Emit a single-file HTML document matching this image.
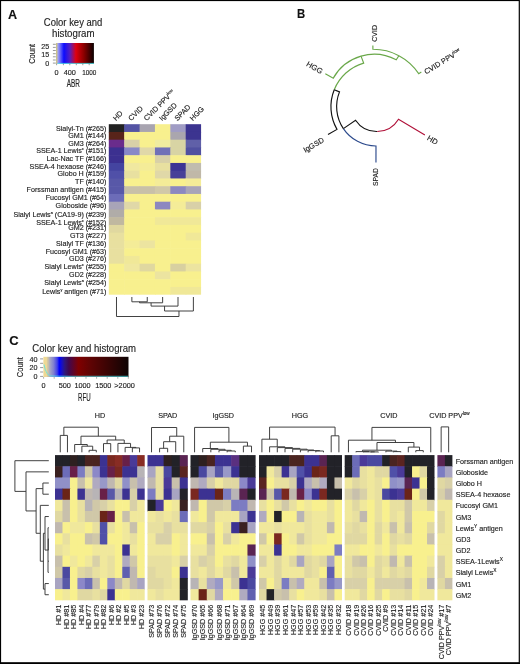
<!DOCTYPE html>
<html><head><meta charset="utf-8"><style>
html,body{margin:0;padding:0;background:#fff;width:520px;height:664px;overflow:hidden}
svg{display:block;will-change:transform}
text{font-family:"Liberation Sans", sans-serif;stroke:#222;stroke-width:0.14px}
</style></head><body>
<svg width="520" height="664" viewBox="0 0 520 664">
<rect x="0" y="0" width="520" height="664" fill="#fff"/>
<text x="8.1" y="18.7" font-size="13" textLength="9.1" lengthAdjust="spacingAndGlyphs" font-weight="bold" fill="#111" >A</text>
<text x="73.1" y="25.8" font-size="10.6" text-anchor="middle" textLength="58.5" lengthAdjust="spacingAndGlyphs" fill="#222" >Color key and</text>
<text x="73.3" y="36.6" font-size="10.6" text-anchor="middle" textLength="42.5" lengthAdjust="spacingAndGlyphs" fill="#222" >histogram</text>
<defs><linearGradient id="gA" x1="0" x2="1" y1="0" y2="0"><stop offset="0" stop-color="#b8b8ff"/><stop offset="0.06" stop-color="#9090f4"/><stop offset="0.2" stop-color="#0c0cff"/><stop offset="0.36" stop-color="#5420c0"/><stop offset="0.52" stop-color="#e00010"/><stop offset="0.72" stop-color="#900000"/><stop offset="1" stop-color="#0a0000"/></linearGradient><linearGradient id="gC" x1="0" x2="1" y1="0" y2="0"><stop offset="0" stop-color="#f0d890"/><stop offset="0.039" stop-color="#ecd898"/><stop offset="0.05" stop-color="#d0c4a4"/><stop offset="0.062" stop-color="#c4bcac"/><stop offset="0.075" stop-color="#a8a8c4"/><stop offset="0.12" stop-color="#8080d0"/><stop offset="0.163" stop-color="#4040e8"/><stop offset="0.186" stop-color="#0000ff"/><stop offset="0.219" stop-color="#1a10c0"/><stop offset="0.254" stop-color="#301878"/><stop offset="0.298" stop-color="#400850"/><stop offset="0.412" stop-color="#800000"/><stop offset="0.548" stop-color="#600404"/><stop offset="1" stop-color="#0e0404"/></linearGradient></defs>
<rect x="56.4" y="43" width="37.5" height="20.7" fill="url(#gA)"/>
<rect x="56.1" y="43" width="1.3" height="20.7" fill="#c8c080"/>
<line x1="57.5" y1="63.4" x2="93.9" y2="63.4" stroke="#40e0e8" stroke-width="0.8"/>
<line x1="52.9" y1="44.3" x2="55.8" y2="44.3" stroke="#555" stroke-width="0.6"/>
<line x1="52.9" y1="47.4" x2="55.8" y2="47.4" stroke="#555" stroke-width="0.6"/>
<line x1="52.9" y1="50.5" x2="55.8" y2="50.5" stroke="#555" stroke-width="0.6"/>
<line x1="52.9" y1="53.7" x2="55.8" y2="53.7" stroke="#555" stroke-width="0.6"/>
<line x1="52.9" y1="56.8" x2="55.8" y2="56.8" stroke="#555" stroke-width="0.6"/>
<line x1="52.9" y1="60" x2="55.8" y2="60" stroke="#555" stroke-width="0.6"/>
<line x1="52.9" y1="63.1" x2="55.8" y2="63.1" stroke="#555" stroke-width="0.6"/>
<text x="49.2" y="48.8" font-size="7.2" text-anchor="end" fill="#222" >25</text>
<text x="49.2" y="57" font-size="7.2" text-anchor="end" fill="#222" >15</text>
<text x="49.2" y="65.5" font-size="7.2" text-anchor="end" fill="#222" >0</text>
<text transform="translate(35.4,53.8) rotate(-90)" font-size="9.4" text-anchor="middle" textLength="20" lengthAdjust="spacingAndGlyphs" fill="#222">Count</text>
<line x1="56.6" y1="63.7" x2="56.6" y2="65.2" stroke="#555" stroke-width="0.6"/>
<line x1="63.4" y1="63.7" x2="63.4" y2="65.2" stroke="#555" stroke-width="0.6"/>
<line x1="69.8" y1="63.7" x2="69.8" y2="65.2" stroke="#555" stroke-width="0.6"/>
<line x1="76.3" y1="63.7" x2="76.3" y2="65.2" stroke="#555" stroke-width="0.6"/>
<line x1="82.8" y1="63.7" x2="82.8" y2="65.2" stroke="#555" stroke-width="0.6"/>
<line x1="89.2" y1="63.7" x2="89.2" y2="65.2" stroke="#555" stroke-width="0.6"/>
<text x="56.5" y="74.8" font-size="7.3" text-anchor="middle" fill="#222" >0</text>
<text x="69.8" y="74.8" font-size="7.3" text-anchor="middle" fill="#222" >400</text>
<text x="89.3" y="74.8" font-size="7.3" text-anchor="middle" textLength="14.2" lengthAdjust="spacingAndGlyphs" fill="#222" >1000</text>
<text x="73.3" y="86.9" font-size="10" text-anchor="middle" textLength="13.2" lengthAdjust="spacingAndGlyphs" fill="#222" >ABR</text>
<rect x="108.8" y="124.2" width="15.98" height="8.35" fill="#222222"/>
<rect x="124.18" y="124.2" width="15.98" height="8.35" fill="#5454a4"/>
<rect x="139.56" y="124.2" width="15.98" height="8.35" fill="#a8a4b0"/>
<rect x="154.94" y="124.2" width="15.98" height="8.35" fill="#f8f08e"/>
<rect x="170.32" y="124.2" width="15.98" height="8.35" fill="#a09cc4"/>
<rect x="185.7" y="124.2" width="15.38" height="8.35" fill="#3c3490"/>
<rect x="108.8" y="131.95" width="15.98" height="8.35" fill="#58241a"/>
<rect x="124.18" y="131.95" width="15.98" height="8.35" fill="#f8f08e"/>
<rect x="139.56" y="131.95" width="15.98" height="8.35" fill="#f8f08e"/>
<rect x="154.94" y="131.95" width="15.98" height="8.35" fill="#f8f08e"/>
<rect x="170.32" y="131.95" width="15.98" height="8.35" fill="#aaa6ae"/>
<rect x="185.7" y="131.95" width="15.38" height="8.35" fill="#3c3490"/>
<rect x="108.8" y="139.7" width="15.98" height="8.35" fill="#6a2c8c"/>
<rect x="124.18" y="139.7" width="15.98" height="8.35" fill="#d8d0a8"/>
<rect x="139.56" y="139.7" width="15.98" height="8.35" fill="#f8f08e"/>
<rect x="154.94" y="139.7" width="15.98" height="8.35" fill="#f0eca0"/>
<rect x="170.32" y="139.7" width="15.98" height="8.35" fill="#d8d4a4"/>
<rect x="185.7" y="139.7" width="15.38" height="8.35" fill="#6060a8"/>
<rect x="108.8" y="147.45" width="15.98" height="8.35" fill="#3c3090"/>
<rect x="124.18" y="147.45" width="15.98" height="8.35" fill="#8888c8"/>
<rect x="139.56" y="147.45" width="15.98" height="8.35" fill="#e0d8a8"/>
<rect x="154.94" y="147.45" width="15.98" height="8.35" fill="#7070b8"/>
<rect x="170.32" y="147.45" width="15.98" height="8.35" fill="#d8d4a4"/>
<rect x="185.7" y="147.45" width="15.38" height="8.35" fill="#5050a0"/>
<rect x="108.8" y="155.2" width="15.98" height="8.35" fill="#3c3090"/>
<rect x="124.18" y="155.2" width="15.98" height="8.35" fill="#f8f08e"/>
<rect x="139.56" y="155.2" width="15.98" height="8.35" fill="#f8f08e"/>
<rect x="154.94" y="155.2" width="15.98" height="8.35" fill="#d8d0a8"/>
<rect x="170.32" y="155.2" width="15.98" height="8.35" fill="#f8f08e"/>
<rect x="185.7" y="155.2" width="15.38" height="8.35" fill="#f8f08e"/>
<rect x="108.8" y="162.95" width="15.98" height="8.35" fill="#4444a0"/>
<rect x="124.18" y="162.95" width="15.98" height="8.35" fill="#f0e8a0"/>
<rect x="139.56" y="162.95" width="15.98" height="8.35" fill="#f4ec98"/>
<rect x="154.94" y="162.95" width="15.98" height="8.35" fill="#e8e0a0"/>
<rect x="170.32" y="162.95" width="15.98" height="8.35" fill="#3c3494"/>
<rect x="185.7" y="162.95" width="15.38" height="8.35" fill="#c0bcae"/>
<rect x="108.8" y="170.7" width="15.98" height="8.35" fill="#5050a8"/>
<rect x="124.18" y="170.7" width="15.98" height="8.35" fill="#e8e0a0"/>
<rect x="139.56" y="170.7" width="15.98" height="8.35" fill="#f8f08e"/>
<rect x="154.94" y="170.7" width="15.98" height="8.35" fill="#e0d8a8"/>
<rect x="170.32" y="170.7" width="15.98" height="8.35" fill="#484098"/>
<rect x="185.7" y="170.7" width="15.38" height="8.35" fill="#c0b8a8"/>
<rect x="108.8" y="178.45" width="15.98" height="8.35" fill="#5858a8"/>
<rect x="124.18" y="178.45" width="15.98" height="8.35" fill="#f8f08e"/>
<rect x="139.56" y="178.45" width="15.98" height="8.35" fill="#f8f08e"/>
<rect x="154.94" y="178.45" width="15.98" height="8.35" fill="#f4ec98"/>
<rect x="170.32" y="178.45" width="15.98" height="8.35" fill="#f8f08e"/>
<rect x="185.7" y="178.45" width="15.38" height="8.35" fill="#f4ec98"/>
<rect x="108.8" y="186.2" width="15.98" height="8.35" fill="#5858a8"/>
<rect x="124.18" y="186.2" width="15.98" height="8.35" fill="#c8c0a8"/>
<rect x="139.56" y="186.2" width="15.98" height="8.35" fill="#c8c0a8"/>
<rect x="154.94" y="186.2" width="15.98" height="8.35" fill="#d0c8a8"/>
<rect x="170.32" y="186.2" width="15.98" height="8.35" fill="#8c88c0"/>
<rect x="185.7" y="186.2" width="15.38" height="8.35" fill="#a8a4b8"/>
<rect x="108.8" y="193.95" width="15.98" height="8.35" fill="#6c6cb8"/>
<rect x="124.18" y="193.95" width="15.98" height="8.35" fill="#f8f08e"/>
<rect x="139.56" y="193.95" width="15.98" height="8.35" fill="#f8f08e"/>
<rect x="154.94" y="193.95" width="15.98" height="8.35" fill="#f8f08e"/>
<rect x="170.32" y="193.95" width="15.98" height="8.35" fill="#f8f08e"/>
<rect x="185.7" y="193.95" width="15.38" height="8.35" fill="#f8f08e"/>
<rect x="108.8" y="201.7" width="15.98" height="8.35" fill="#a8a4b8"/>
<rect x="124.18" y="201.7" width="15.98" height="8.35" fill="#e0d8a8"/>
<rect x="139.56" y="201.7" width="15.98" height="8.35" fill="#f8f08e"/>
<rect x="154.94" y="201.7" width="15.98" height="8.35" fill="#8c88c0"/>
<rect x="170.32" y="201.7" width="15.98" height="8.35" fill="#f4ec98"/>
<rect x="185.7" y="201.7" width="15.38" height="8.35" fill="#d8d0a8"/>
<rect x="108.8" y="209.45" width="15.98" height="8.35" fill="#b0aca8"/>
<rect x="124.18" y="209.45" width="15.98" height="8.35" fill="#f8f08e"/>
<rect x="139.56" y="209.45" width="15.98" height="8.35" fill="#f8f08e"/>
<rect x="154.94" y="209.45" width="15.98" height="8.35" fill="#f8f08e"/>
<rect x="170.32" y="209.45" width="15.98" height="8.35" fill="#f8f08e"/>
<rect x="185.7" y="209.45" width="15.38" height="8.35" fill="#f8f08e"/>
<rect x="108.8" y="217.2" width="15.98" height="8.35" fill="#c0b8a0"/>
<rect x="124.18" y="217.2" width="15.98" height="8.35" fill="#f8f08e"/>
<rect x="139.56" y="217.2" width="15.98" height="8.35" fill="#f8f08e"/>
<rect x="154.94" y="217.2" width="15.98" height="8.35" fill="#f0e898"/>
<rect x="170.32" y="217.2" width="15.98" height="8.35" fill="#f0e898"/>
<rect x="185.7" y="217.2" width="15.38" height="8.35" fill="#f0e898"/>
<rect x="108.8" y="224.95" width="15.98" height="8.35" fill="#e0d8a0"/>
<rect x="124.18" y="224.95" width="15.98" height="8.35" fill="#f8f08e"/>
<rect x="139.56" y="224.95" width="15.98" height="8.35" fill="#f8f08e"/>
<rect x="154.94" y="224.95" width="15.98" height="8.35" fill="#f8f08e"/>
<rect x="170.32" y="224.95" width="15.98" height="8.35" fill="#f8f08e"/>
<rect x="185.7" y="224.95" width="15.38" height="8.35" fill="#f8f08e"/>
<rect x="108.8" y="232.7" width="15.98" height="8.35" fill="#e8e0a0"/>
<rect x="124.18" y="232.7" width="15.98" height="8.35" fill="#f8f08e"/>
<rect x="139.56" y="232.7" width="15.98" height="8.35" fill="#f8f08e"/>
<rect x="154.94" y="232.7" width="15.98" height="8.35" fill="#f8f08e"/>
<rect x="170.32" y="232.7" width="15.98" height="8.35" fill="#f8f08e"/>
<rect x="185.7" y="232.7" width="15.38" height="8.35" fill="#f0e898"/>
<rect x="108.8" y="240.45" width="15.98" height="8.35" fill="#e8e0a0"/>
<rect x="124.18" y="240.45" width="15.98" height="8.35" fill="#f4ec98"/>
<rect x="139.56" y="240.45" width="15.98" height="8.35" fill="#ece4a0"/>
<rect x="154.94" y="240.45" width="15.98" height="8.35" fill="#f8f08e"/>
<rect x="170.32" y="240.45" width="15.98" height="8.35" fill="#f8f08e"/>
<rect x="185.7" y="240.45" width="15.38" height="8.35" fill="#f8f08e"/>
<rect x="108.8" y="248.2" width="15.98" height="8.35" fill="#e8e0a0"/>
<rect x="124.18" y="248.2" width="15.98" height="8.35" fill="#f8f08e"/>
<rect x="139.56" y="248.2" width="15.98" height="8.35" fill="#f8f08e"/>
<rect x="154.94" y="248.2" width="15.98" height="8.35" fill="#f8f08e"/>
<rect x="170.32" y="248.2" width="15.98" height="8.35" fill="#f8f08e"/>
<rect x="185.7" y="248.2" width="15.38" height="8.35" fill="#f8f08e"/>
<rect x="108.8" y="255.95" width="15.98" height="8.35" fill="#e8e0a0"/>
<rect x="124.18" y="255.95" width="15.98" height="8.35" fill="#f0e898"/>
<rect x="139.56" y="255.95" width="15.98" height="8.35" fill="#f8f08e"/>
<rect x="154.94" y="255.95" width="15.98" height="8.35" fill="#f8f08e"/>
<rect x="170.32" y="255.95" width="15.98" height="8.35" fill="#f8f08e"/>
<rect x="185.7" y="255.95" width="15.38" height="8.35" fill="#f8f08e"/>
<rect x="108.8" y="263.7" width="15.98" height="8.35" fill="#f8f08e"/>
<rect x="124.18" y="263.7" width="15.98" height="8.35" fill="#f0e8a0"/>
<rect x="139.56" y="263.7" width="15.98" height="8.35" fill="#e0d8a0"/>
<rect x="154.94" y="263.7" width="15.98" height="8.35" fill="#f8f08e"/>
<rect x="170.32" y="263.7" width="15.98" height="8.35" fill="#d8d0a0"/>
<rect x="185.7" y="263.7" width="15.38" height="8.35" fill="#ece4a0"/>
<rect x="108.8" y="271.45" width="15.98" height="8.35" fill="#f8f08e"/>
<rect x="124.18" y="271.45" width="15.98" height="8.35" fill="#f8f08e"/>
<rect x="139.56" y="271.45" width="15.98" height="8.35" fill="#f8f08e"/>
<rect x="154.94" y="271.45" width="15.98" height="8.35" fill="#ece4a0"/>
<rect x="170.32" y="271.45" width="15.98" height="8.35" fill="#f8f08e"/>
<rect x="185.7" y="271.45" width="15.38" height="8.35" fill="#f8f08e"/>
<rect x="108.8" y="279.2" width="15.98" height="8.35" fill="#f8f08e"/>
<rect x="124.18" y="279.2" width="15.98" height="8.35" fill="#f8f08e"/>
<rect x="139.56" y="279.2" width="15.98" height="8.35" fill="#f8f08e"/>
<rect x="154.94" y="279.2" width="15.98" height="8.35" fill="#f8f08e"/>
<rect x="170.32" y="279.2" width="15.98" height="8.35" fill="#f8f08e"/>
<rect x="185.7" y="279.2" width="15.38" height="8.35" fill="#f8f08e"/>
<rect x="108.8" y="286.95" width="15.98" height="7.75" fill="#f8f08e"/>
<rect x="124.18" y="286.95" width="15.98" height="7.75" fill="#f8f08e"/>
<rect x="139.56" y="286.95" width="15.98" height="7.75" fill="#f8f08e"/>
<rect x="154.94" y="286.95" width="15.98" height="7.75" fill="#f8f08e"/>
<rect x="170.32" y="286.95" width="15.98" height="7.75" fill="#f0e898"/>
<rect x="185.7" y="286.95" width="15.38" height="7.75" fill="#f0e898"/>
<text x="106.4" y="130.6" font-size="7.15" text-anchor="end" fill="#222" >Sialyl-Tn (#265)</text>
<text x="106.4" y="138.2" font-size="7.15" text-anchor="end" fill="#222" >GM1 (#144)</text>
<text x="106.4" y="145.8" font-size="7.15" text-anchor="end" fill="#222" >GM3 (#264)</text>
<text x="106.4" y="153.4" font-size="7.15" text-anchor="end" fill="#222" >SSEA-1 Lewis<tspan font-size="3.8" dy="-3.1">x</tspan><tspan dy="3.1"> (#151)</tspan></text>
<text x="106.4" y="161.2" font-size="7.15" text-anchor="end" fill="#222" >Lac-Nac TF (#166)</text>
<text x="106.4" y="168.6" font-size="7.15" text-anchor="end" fill="#222" >SSEA-4 hexaose (#246)</text>
<text x="106.4" y="176.4" font-size="7.15" text-anchor="end" fill="#222" >Globo H (#159)</text>
<text x="106.4" y="183.9" font-size="7.15" text-anchor="end" fill="#222" >TF (#140)</text>
<text x="106.4" y="192" font-size="7.15" text-anchor="end" fill="#222" >Forssman antigen (#415)</text>
<text x="106.4" y="199.8" font-size="7.15" text-anchor="end" fill="#222" >Fucosyl GM1 (#64)</text>
<text x="106.4" y="207.7" font-size="7.15" text-anchor="end" fill="#222" >Globoside (#96)</text>
<text x="106.4" y="216.7" font-size="7.15" text-anchor="end" fill="#222" >Sialyl Lewis<tspan font-size="3.8" dy="-3.1">a</tspan><tspan dy="3.1"> (CA19-9) (#239)</tspan></text>
<text x="106.4" y="224.6" font-size="7.15" text-anchor="end" fill="#222" >SSEA-1 Lewis<tspan font-size="3.8" dy="-3.1">x</tspan><tspan dy="3.1"> (#152)</tspan></text>
<text x="106.4" y="230.3" font-size="7.15" text-anchor="end" fill="#222" >GM2 (#231)</text>
<text x="106.4" y="237.9" font-size="7.15" text-anchor="end" fill="#222" >GT3 (#227)</text>
<text x="106.4" y="245.5" font-size="7.15" text-anchor="end" fill="#222" >Sialyl TF (#136)</text>
<text x="106.4" y="253.8" font-size="7.15" text-anchor="end" fill="#222" >Fucosyl GM1 (#63)</text>
<text x="106.4" y="260.9" font-size="7.15" text-anchor="end" fill="#222" >GD3 (#276)</text>
<text x="106.4" y="269.4" font-size="7.15" text-anchor="end" fill="#222" >Sialyl Lewis<tspan font-size="3.8" dy="-3.1">x</tspan><tspan dy="3.1"> (#255)</tspan></text>
<text x="106.4" y="276.8" font-size="7.15" text-anchor="end" fill="#222" >GD2 (#228)</text>
<text x="106.4" y="284.8" font-size="7.15" text-anchor="end" fill="#222" >Sialyl Lewis<tspan font-size="3.8" dy="-3.1">a</tspan><tspan dy="3.1"> (#254)</tspan></text>
<text x="106.4" y="293.7" font-size="7.15" text-anchor="end" fill="#222" >Lewis<tspan font-size="3.8" dy="-3.1">y</tspan><tspan dy="3.1"> antigen (#71)</tspan></text>
<text transform="translate(115.89,121.3) rotate(-45)" font-size="7.3" fill="#222">HD</text>
<text transform="translate(131.27,121.3) rotate(-45)" font-size="7.3" fill="#222">CVID</text>
<text transform="translate(146.65,121.3) rotate(-45)" font-size="7.3" fill="#222">CVID PPV<tspan font-size="4.2" dy="-3.0">low</tspan><tspan dy="3.0"></tspan></text>
<text transform="translate(162.03,121.3) rotate(-45)" font-size="7.3" fill="#222">IgGSD</text>
<text transform="translate(177.41,121.3) rotate(-45)" font-size="7.3" fill="#222">SPAD</text>
<text transform="translate(192.79,121.3) rotate(-45)" font-size="7.3" fill="#222">HGG</text>
<path d="M131.87,297 L131.87,301.8 L147.25,301.8 L147.25,297" fill="none" stroke="#383838" stroke-width="0.95"/>
<path d="M139.56,301.8 L139.56,302.8 L162.63,302.8 L162.63,297" fill="none" stroke="#383838" stroke-width="0.95"/>
<path d="M151.09,302.8 L151.09,306.1 L178.01,306.1 L178.01,297" fill="none" stroke="#383838" stroke-width="0.95"/>
<path d="M164.55,306.1 L164.55,311 L193.39,311 L193.39,297" fill="none" stroke="#383838" stroke-width="0.95"/>
<path d="M178.97,311 L178.97,316.5 L116.49,316.5 L116.49,297" fill="none" stroke="#383838" stroke-width="0.95"/>
<text x="297" y="18.4" font-size="12.6" textLength="8.2" lengthAdjust="spacingAndGlyphs" font-weight="bold" fill="#111" >B</text>
<path d="M398.89,55.7 A54.55,54.55 0 0 0 372.9,49.29 L372.87,45.5" fill="none" stroke="#6aa84a" stroke-width="1.15" stroke-linejoin="miter"/>
<path d="M398.89,55.7 A54.55,54.55 0 0 1 418.7,73.69 L421.33,71.95" fill="none" stroke="#6aa84a" stroke-width="1.15" stroke-linejoin="miter"/>
<path d="M361.03,56.17 A46.95,46.95 0 0 0 333.29,78.13 L325.32,73.63" fill="none" stroke="#6aa84a" stroke-width="1.15" stroke-linejoin="miter"/>
<path d="M361.03,56.17 A46.95,46.95 0 0 1 396.22,59.81 L398.89,55.7" fill="none" stroke="#6aa84a" stroke-width="1.15" stroke-linejoin="miter"/>
<path d="M334.23,89.76 A45.43,45.43 0 0 1 363.67,63.11 L361.03,56.17" fill="none" stroke="#6aa84a" stroke-width="1.15" stroke-linejoin="miter"/>
<path d="M334.23,89.76 A45.43,45.43 0 0 0 336.99,129.38 L328,134.55" fill="none" stroke="#111111" stroke-width="1.15" stroke-linejoin="miter"/>
<path d="M343.37,128.61 A39.42,39.42 0 0 1 339.49,91.85 L334.23,89.76" fill="none" stroke="#111111" stroke-width="1.15" stroke-linejoin="miter"/>
<path d="M343.37,128.61 A39.42,39.42 0 0 0 375.99,146 L375.96,162.38" fill="none" stroke="#2c4a8c" stroke-width="1.15" stroke-linejoin="miter"/>
<path d="M377.32,131.5 A25.49,25.49 0 0 1 355.54,120.27 L343.37,128.61" fill="none" stroke="#111111" stroke-width="1.15" stroke-linejoin="miter"/>
<path d="M377.32,131.5 A25.49,25.49 0 0 0 398.51,119.19 L424.89,135.1" fill="none" stroke="#b01038" stroke-width="1.15" stroke-linejoin="miter"/>
<text transform="translate(376.7,41.7) rotate(-90)" font-size="7.5" fill="#222" textLength="16.6" lengthAdjust="spacingAndGlyphs">CVID</text>
<text transform="translate(378.2,186) rotate(-90)" font-size="7.5" fill="#222" textLength="17.8" lengthAdjust="spacingAndGlyphs">SPAD</text>
<text transform="translate(305.8,65.5) rotate(30)" font-size="7.6" fill="#222">HGG</text>
<text transform="translate(426.6,139.4) rotate(30)" font-size="7.6" fill="#222">HD</text>
<text transform="translate(305.2,152.8) rotate(-30)" font-size="7.5" fill="#222">IgGSD</text>
<text transform="translate(426.3,74.6) rotate(-32)" font-size="7.4" fill="#222">CVID PPV<tspan font-size="4.6" dy="-2.9">low</tspan><tspan dy="2.9"></tspan></text>
<text x="9.3" y="344.5" font-size="12" textLength="9.4" lengthAdjust="spacingAndGlyphs" font-weight="bold" fill="#111" >C</text>
<text x="32.3" y="352" font-size="10.6" textLength="103.7" lengthAdjust="spacingAndGlyphs" fill="#222" >Color key and histogram</text>
<rect x="43.4" y="356.8" width="85.1" height="20.2" fill="url(#gC)"/>
<path d="M44,364.5 L44.6,367 L45.3,369.5 L46.2,371.5 L47.2,373.5 L48.5,375 L50,375.9 L55,376.1 L70,376.3 L128,376.3" fill="none" stroke="#50e4ec" stroke-width="0.8"/>
<line x1="40.1" y1="358.9" x2="43.1" y2="358.9" stroke="#555" stroke-width="0.6"/>
<line x1="40.1" y1="363.3" x2="43.1" y2="363.3" stroke="#555" stroke-width="0.6"/>
<line x1="40.1" y1="367.6" x2="43.1" y2="367.6" stroke="#555" stroke-width="0.6"/>
<line x1="40.1" y1="372" x2="43.1" y2="372" stroke="#555" stroke-width="0.6"/>
<line x1="40.1" y1="376.4" x2="43.1" y2="376.4" stroke="#555" stroke-width="0.6"/>
<text x="37.4" y="361.5" font-size="7.2" text-anchor="end" fill="#222" >40</text>
<text x="37.4" y="370.2" font-size="7.2" text-anchor="end" fill="#222" >20</text>
<text x="37.4" y="379" font-size="7.2" text-anchor="end" fill="#222" >0</text>
<text transform="translate(22.6,367.2) rotate(-90)" font-size="9.4" text-anchor="middle" textLength="20" lengthAdjust="spacingAndGlyphs" fill="#222">Count</text>
<line x1="43.6" y1="377.2" x2="43.6" y2="378.6" stroke="#555" stroke-width="0.6"/>
<line x1="54.2" y1="377.2" x2="54.2" y2="378.6" stroke="#555" stroke-width="0.6"/>
<line x1="64.8" y1="377.2" x2="64.8" y2="378.6" stroke="#555" stroke-width="0.6"/>
<line x1="75.4" y1="377.2" x2="75.4" y2="378.6" stroke="#555" stroke-width="0.6"/>
<line x1="86" y1="377.2" x2="86" y2="378.6" stroke="#555" stroke-width="0.6"/>
<line x1="96.6" y1="377.2" x2="96.6" y2="378.6" stroke="#555" stroke-width="0.6"/>
<line x1="107.2" y1="377.2" x2="107.2" y2="378.6" stroke="#555" stroke-width="0.6"/>
<line x1="117.8" y1="377.2" x2="117.8" y2="378.6" stroke="#555" stroke-width="0.6"/>
<line x1="128.3" y1="377.2" x2="128.3" y2="378.6" stroke="#555" stroke-width="0.6"/>
<text x="43.6" y="387.7" font-size="7.3" text-anchor="middle" fill="#222" >0</text>
<text x="64.8" y="387.7" font-size="7.3" text-anchor="middle" fill="#222" >500</text>
<text x="82.5" y="387.7" font-size="7.3" text-anchor="middle" fill="#222" >1000</text>
<text x="103.3" y="387.7" font-size="7.3" text-anchor="middle" fill="#222" >1500</text>
<text x="124.6" y="387.7" font-size="7.3" text-anchor="middle" fill="#222" >&gt;2000</text>
<text x="84.4" y="400.9" font-size="10" text-anchor="middle" textLength="12.7" lengthAdjust="spacingAndGlyphs" fill="#222" >RFU</text>
<rect x="55" y="455.1" width="8.07" height="11.77" fill="#222228"/>
<rect x="62.48" y="455.1" width="8.07" height="11.77" fill="#222228"/>
<rect x="69.95" y="455.1" width="8.07" height="11.77" fill="#2e2020"/>
<rect x="77.42" y="455.1" width="8.07" height="11.77" fill="#222228"/>
<rect x="84.9" y="455.1" width="8.07" height="11.77" fill="#4a2420"/>
<rect x="92.38" y="455.1" width="8.07" height="11.77" fill="#4a2420"/>
<rect x="99.85" y="455.1" width="8.07" height="11.77" fill="#3c3292"/>
<rect x="107.32" y="455.1" width="8.07" height="11.77" fill="#7a2820"/>
<rect x="114.8" y="455.1" width="8.07" height="11.77" fill="#882c24"/>
<rect x="122.27" y="455.1" width="8.07" height="11.77" fill="#682048"/>
<rect x="129.75" y="455.1" width="8.07" height="11.77" fill="#4a3a98"/>
<rect x="137.22" y="455.1" width="7.47" height="11.77" fill="#882c24"/>
<rect x="55" y="466.27" width="8.07" height="11.77" fill="#3a2020"/>
<rect x="62.48" y="466.27" width="8.07" height="11.77" fill="#6c6cb8"/>
<rect x="69.95" y="466.27" width="8.07" height="11.77" fill="#682048"/>
<rect x="77.42" y="466.27" width="8.07" height="11.77" fill="#7c7cc2"/>
<rect x="84.9" y="466.27" width="8.07" height="11.77" fill="#d0c8a8"/>
<rect x="92.38" y="466.27" width="8.07" height="11.77" fill="#8c88c8"/>
<rect x="99.85" y="466.27" width="8.07" height="11.77" fill="#3c3292"/>
<rect x="107.32" y="466.27" width="8.07" height="11.77" fill="#682048"/>
<rect x="114.8" y="466.27" width="8.07" height="11.77" fill="#7a2820"/>
<rect x="122.27" y="466.27" width="8.07" height="11.77" fill="#3c3292"/>
<rect x="129.75" y="466.27" width="8.07" height="11.77" fill="#3c3292"/>
<rect x="137.22" y="466.27" width="7.47" height="11.77" fill="#b8b4b6"/>
<rect x="55" y="477.44" width="8.07" height="11.77" fill="#9090c8"/>
<rect x="62.48" y="477.44" width="8.07" height="11.77" fill="#9090c8"/>
<rect x="69.95" y="477.44" width="8.07" height="11.77" fill="#f8f08e"/>
<rect x="77.42" y="477.44" width="8.07" height="11.77" fill="#c8c0ac"/>
<rect x="84.9" y="477.44" width="8.07" height="11.77" fill="#f0e89c"/>
<rect x="92.38" y="477.44" width="8.07" height="11.77" fill="#b0aac0"/>
<rect x="99.85" y="477.44" width="8.07" height="11.77" fill="#9898c8"/>
<rect x="107.32" y="477.44" width="8.07" height="11.77" fill="#c0b8b0"/>
<rect x="114.8" y="477.44" width="8.07" height="11.77" fill="#e0d8a2"/>
<rect x="122.27" y="477.44" width="8.07" height="11.77" fill="#9090c8"/>
<rect x="129.75" y="477.44" width="8.07" height="11.77" fill="#c8c0ac"/>
<rect x="137.22" y="477.44" width="7.47" height="11.77" fill="#b0aac0"/>
<rect x="55" y="488.61" width="8.07" height="11.77" fill="#3c3292"/>
<rect x="62.48" y="488.61" width="8.07" height="11.77" fill="#6a2418"/>
<rect x="69.95" y="488.61" width="8.07" height="11.77" fill="#f8f08e"/>
<rect x="77.42" y="488.61" width="8.07" height="11.77" fill="#3c3292"/>
<rect x="84.9" y="488.61" width="8.07" height="11.77" fill="#c0b8b0"/>
<rect x="92.38" y="488.61" width="8.07" height="11.77" fill="#b8b4b6"/>
<rect x="99.85" y="488.61" width="8.07" height="11.77" fill="#682048"/>
<rect x="107.32" y="488.61" width="8.07" height="11.77" fill="#5858a8"/>
<rect x="114.8" y="488.61" width="8.07" height="11.77" fill="#b8b4b6"/>
<rect x="122.27" y="488.61" width="8.07" height="11.77" fill="#3c3292"/>
<rect x="129.75" y="488.61" width="8.07" height="11.77" fill="#d8d0a8"/>
<rect x="137.22" y="488.61" width="7.47" height="11.77" fill="#3c3292"/>
<rect x="55" y="499.78" width="8.07" height="11.77" fill="#f0e89c"/>
<rect x="62.48" y="499.78" width="8.07" height="11.77" fill="#c8c0ac"/>
<rect x="69.95" y="499.78" width="8.07" height="11.77" fill="#f8f08e"/>
<rect x="77.42" y="499.78" width="8.07" height="11.77" fill="#e8e0a0"/>
<rect x="84.9" y="499.78" width="8.07" height="11.77" fill="#b8b4b6"/>
<rect x="92.38" y="499.78" width="8.07" height="11.77" fill="#d0c8a8"/>
<rect x="99.85" y="499.78" width="8.07" height="11.77" fill="#d8d0a8"/>
<rect x="107.32" y="499.78" width="8.07" height="11.77" fill="#e8e0a0"/>
<rect x="114.8" y="499.78" width="8.07" height="11.77" fill="#f8f08e"/>
<rect x="122.27" y="499.78" width="8.07" height="11.77" fill="#f8f08e"/>
<rect x="129.75" y="499.78" width="8.07" height="11.77" fill="#d8d0a8"/>
<rect x="137.22" y="499.78" width="7.47" height="11.77" fill="#f0e89c"/>
<rect x="55" y="510.95" width="8.07" height="11.77" fill="#e0d8a2"/>
<rect x="62.48" y="510.95" width="8.07" height="11.77" fill="#c8c0ac"/>
<rect x="69.95" y="510.95" width="8.07" height="11.77" fill="#f8f08e"/>
<rect x="77.42" y="510.95" width="8.07" height="11.77" fill="#e8e0a0"/>
<rect x="84.9" y="510.95" width="8.07" height="11.77" fill="#d0c8a8"/>
<rect x="92.38" y="510.95" width="8.07" height="11.77" fill="#d0c8a8"/>
<rect x="99.85" y="510.95" width="8.07" height="11.77" fill="#6a2418"/>
<rect x="107.32" y="510.95" width="8.07" height="11.77" fill="#682048"/>
<rect x="114.8" y="510.95" width="8.07" height="11.77" fill="#f8f08e"/>
<rect x="122.27" y="510.95" width="8.07" height="11.77" fill="#c8c0ac"/>
<rect x="129.75" y="510.95" width="8.07" height="11.77" fill="#f0e89c"/>
<rect x="137.22" y="510.95" width="7.47" height="11.77" fill="#f0e89c"/>
<rect x="55" y="522.12" width="8.07" height="11.77" fill="#c0b8b0"/>
<rect x="62.48" y="522.12" width="8.07" height="11.77" fill="#f8f08e"/>
<rect x="69.95" y="522.12" width="8.07" height="11.77" fill="#f0e89c"/>
<rect x="77.42" y="522.12" width="8.07" height="11.77" fill="#f0e89c"/>
<rect x="84.9" y="522.12" width="8.07" height="11.77" fill="#f8f08e"/>
<rect x="92.38" y="522.12" width="8.07" height="11.77" fill="#e8e0a0"/>
<rect x="99.85" y="522.12" width="8.07" height="11.77" fill="#5050a8"/>
<rect x="107.32" y="522.12" width="8.07" height="11.77" fill="#e8e0a0"/>
<rect x="114.8" y="522.12" width="8.07" height="11.77" fill="#f8f08e"/>
<rect x="122.27" y="522.12" width="8.07" height="11.77" fill="#f0e89c"/>
<rect x="129.75" y="522.12" width="8.07" height="11.77" fill="#c8c0ac"/>
<rect x="137.22" y="522.12" width="7.47" height="11.77" fill="#f8f08e"/>
<rect x="55" y="533.29" width="8.07" height="11.77" fill="#f8f08e"/>
<rect x="62.48" y="533.29" width="8.07" height="11.77" fill="#e8e0a0"/>
<rect x="69.95" y="533.29" width="8.07" height="11.77" fill="#f8f08e"/>
<rect x="77.42" y="533.29" width="8.07" height="11.77" fill="#f8f08e"/>
<rect x="84.9" y="533.29" width="8.07" height="11.77" fill="#c8c0ac"/>
<rect x="92.38" y="533.29" width="8.07" height="11.77" fill="#d0c8a8"/>
<rect x="99.85" y="533.29" width="8.07" height="11.77" fill="#5050a8"/>
<rect x="107.32" y="533.29" width="8.07" height="11.77" fill="#f8f08e"/>
<rect x="114.8" y="533.29" width="8.07" height="11.77" fill="#f8f08e"/>
<rect x="122.27" y="533.29" width="8.07" height="11.77" fill="#f0e89c"/>
<rect x="129.75" y="533.29" width="8.07" height="11.77" fill="#e8e0a0"/>
<rect x="137.22" y="533.29" width="7.47" height="11.77" fill="#f8f08e"/>
<rect x="55" y="544.46" width="8.07" height="11.77" fill="#e8e0a0"/>
<rect x="62.48" y="544.46" width="8.07" height="11.77" fill="#f0e89c"/>
<rect x="69.95" y="544.46" width="8.07" height="11.77" fill="#f8f08e"/>
<rect x="77.42" y="544.46" width="8.07" height="11.77" fill="#f8f08e"/>
<rect x="84.9" y="544.46" width="8.07" height="11.77" fill="#f8f08e"/>
<rect x="92.38" y="544.46" width="8.07" height="11.77" fill="#f0e89c"/>
<rect x="99.85" y="544.46" width="8.07" height="11.77" fill="#f0e89c"/>
<rect x="107.32" y="544.46" width="8.07" height="11.77" fill="#f0e89c"/>
<rect x="114.8" y="544.46" width="8.07" height="11.77" fill="#f8f08e"/>
<rect x="122.27" y="544.46" width="8.07" height="11.77" fill="#3c3292"/>
<rect x="129.75" y="544.46" width="8.07" height="11.77" fill="#f0e89c"/>
<rect x="137.22" y="544.46" width="7.47" height="11.77" fill="#f8f08e"/>
<rect x="55" y="555.63" width="8.07" height="11.77" fill="#c8c0ac"/>
<rect x="62.48" y="555.63" width="8.07" height="11.77" fill="#f8f08e"/>
<rect x="69.95" y="555.63" width="8.07" height="11.77" fill="#f0e89c"/>
<rect x="77.42" y="555.63" width="8.07" height="11.77" fill="#f8f08e"/>
<rect x="84.9" y="555.63" width="8.07" height="11.77" fill="#f0e89c"/>
<rect x="92.38" y="555.63" width="8.07" height="11.77" fill="#d8d0a8"/>
<rect x="99.85" y="555.63" width="8.07" height="11.77" fill="#f0e89c"/>
<rect x="107.32" y="555.63" width="8.07" height="11.77" fill="#e8e0a0"/>
<rect x="114.8" y="555.63" width="8.07" height="11.77" fill="#f8f08e"/>
<rect x="122.27" y="555.63" width="8.07" height="11.77" fill="#b0aac0"/>
<rect x="129.75" y="555.63" width="8.07" height="11.77" fill="#d0c8a8"/>
<rect x="137.22" y="555.63" width="7.47" height="11.77" fill="#f8f08e"/>
<rect x="55" y="566.8" width="8.07" height="11.77" fill="#d0c8a8"/>
<rect x="62.48" y="566.8" width="8.07" height="11.77" fill="#4a48a0"/>
<rect x="69.95" y="566.8" width="8.07" height="11.77" fill="#f8f08e"/>
<rect x="77.42" y="566.8" width="8.07" height="11.77" fill="#e0d8a2"/>
<rect x="84.9" y="566.8" width="8.07" height="11.77" fill="#d8d0a8"/>
<rect x="92.38" y="566.8" width="8.07" height="11.77" fill="#e8e0a0"/>
<rect x="99.85" y="566.8" width="8.07" height="11.77" fill="#f0e89c"/>
<rect x="107.32" y="566.8" width="8.07" height="11.77" fill="#e8e0a0"/>
<rect x="114.8" y="566.8" width="8.07" height="11.77" fill="#f8f08e"/>
<rect x="122.27" y="566.8" width="8.07" height="11.77" fill="#6060b0"/>
<rect x="129.75" y="566.8" width="8.07" height="11.77" fill="#c0b8b0"/>
<rect x="137.22" y="566.8" width="7.47" height="11.77" fill="#f8f08e"/>
<rect x="55" y="577.97" width="8.07" height="11.77" fill="#a8a4c2"/>
<rect x="62.48" y="577.97" width="8.07" height="11.77" fill="#5858a8"/>
<rect x="69.95" y="577.97" width="8.07" height="11.77" fill="#f8f08e"/>
<rect x="77.42" y="577.97" width="8.07" height="11.77" fill="#8c88c8"/>
<rect x="84.9" y="577.97" width="8.07" height="11.77" fill="#6c6cb8"/>
<rect x="92.38" y="577.97" width="8.07" height="11.77" fill="#c8c0ac"/>
<rect x="99.85" y="577.97" width="8.07" height="11.77" fill="#f8f08e"/>
<rect x="107.32" y="577.97" width="8.07" height="11.77" fill="#8c88c8"/>
<rect x="114.8" y="577.97" width="8.07" height="11.77" fill="#c0b8b0"/>
<rect x="122.27" y="577.97" width="8.07" height="11.77" fill="#e0d8a2"/>
<rect x="129.75" y="577.97" width="8.07" height="11.77" fill="#c0b8b0"/>
<rect x="137.22" y="577.97" width="7.47" height="11.77" fill="#a8a4c2"/>
<rect x="55" y="589.14" width="8.07" height="11.17" fill="#f8f08e"/>
<rect x="62.48" y="589.14" width="8.07" height="11.17" fill="#f0e89c"/>
<rect x="69.95" y="589.14" width="8.07" height="11.17" fill="#f8f08e"/>
<rect x="77.42" y="589.14" width="8.07" height="11.17" fill="#e0d8a2"/>
<rect x="84.9" y="589.14" width="8.07" height="11.17" fill="#e0d8a2"/>
<rect x="92.38" y="589.14" width="8.07" height="11.17" fill="#e8e0a0"/>
<rect x="99.85" y="589.14" width="8.07" height="11.17" fill="#e0d8a2"/>
<rect x="107.32" y="589.14" width="8.07" height="11.17" fill="#3c3292"/>
<rect x="114.8" y="589.14" width="8.07" height="11.17" fill="#f8f08e"/>
<rect x="122.27" y="589.14" width="8.07" height="11.17" fill="#f8f08e"/>
<rect x="129.75" y="589.14" width="8.07" height="11.17" fill="#f0e89c"/>
<rect x="137.22" y="589.14" width="7.47" height="11.17" fill="#f0e89c"/>
<text transform="translate(61.34,604.7) rotate(-90)" font-size="7.2" text-anchor="end" fill="#222">HD #1</text>
<text transform="translate(68.81,604.7) rotate(-90)" font-size="7.2" text-anchor="end" fill="#222">HD #81</text>
<text transform="translate(76.29,604.7) rotate(-90)" font-size="7.2" text-anchor="end" fill="#222">HD #85</text>
<text transform="translate(83.76,604.7) rotate(-90)" font-size="7.2" text-anchor="end" fill="#222">HD #4</text>
<text transform="translate(91.24,604.7) rotate(-90)" font-size="7.2" text-anchor="end" fill="#222">HD #77</text>
<text transform="translate(98.71,604.7) rotate(-90)" font-size="7.2" text-anchor="end" fill="#222">HD #79</text>
<text transform="translate(106.19,604.7) rotate(-90)" font-size="7.2" text-anchor="end" fill="#222">HD #82</text>
<text transform="translate(113.66,604.7) rotate(-90)" font-size="7.2" text-anchor="end" fill="#222">HD #6</text>
<text transform="translate(121.14,604.7) rotate(-90)" font-size="7.2" text-anchor="end" fill="#222">HD #2</text>
<text transform="translate(128.61,604.7) rotate(-90)" font-size="7.2" text-anchor="end" fill="#222">HD #5</text>
<text transform="translate(136.09,604.7) rotate(-90)" font-size="7.2" text-anchor="end" fill="#222">HD #3</text>
<text transform="translate(143.56,604.7) rotate(-90)" font-size="7.2" text-anchor="end" fill="#222">HD #23</text>
<rect x="147.5" y="455.1" width="8.66" height="11.77" fill="#3c3292"/>
<rect x="155.56" y="455.1" width="8.66" height="11.77" fill="#3c3292"/>
<rect x="163.62" y="455.1" width="8.66" height="11.77" fill="#2e2020"/>
<rect x="171.68" y="455.1" width="8.66" height="11.77" fill="#222228"/>
<rect x="179.74" y="455.1" width="8.06" height="11.77" fill="#5a2452"/>
<rect x="147.5" y="466.27" width="8.66" height="11.77" fill="#a8a4c2"/>
<rect x="155.56" y="466.27" width="8.66" height="11.77" fill="#e8e0a0"/>
<rect x="163.62" y="466.27" width="8.66" height="11.77" fill="#4a48a0"/>
<rect x="171.68" y="466.27" width="8.66" height="11.77" fill="#222228"/>
<rect x="179.74" y="466.27" width="8.06" height="11.77" fill="#5a2420"/>
<rect x="147.5" y="477.44" width="8.66" height="11.77" fill="#c0b8b0"/>
<rect x="155.56" y="477.44" width="8.66" height="11.77" fill="#e8e0a0"/>
<rect x="163.62" y="477.44" width="8.66" height="11.77" fill="#4a3a98"/>
<rect x="171.68" y="477.44" width="8.66" height="11.77" fill="#c8c0ac"/>
<rect x="179.74" y="477.44" width="8.06" height="11.77" fill="#3c3292"/>
<rect x="147.5" y="488.61" width="8.66" height="11.77" fill="#7c7cc2"/>
<rect x="155.56" y="488.61" width="8.66" height="11.77" fill="#e8e0a0"/>
<rect x="163.62" y="488.61" width="8.66" height="11.77" fill="#3c3292"/>
<rect x="171.68" y="488.61" width="8.66" height="11.77" fill="#a8a4c2"/>
<rect x="179.74" y="488.61" width="8.06" height="11.77" fill="#222228"/>
<rect x="147.5" y="499.78" width="8.66" height="11.77" fill="#222228"/>
<rect x="155.56" y="499.78" width="8.66" height="11.77" fill="#4a3a98"/>
<rect x="163.62" y="499.78" width="8.66" height="11.77" fill="#f8f08e"/>
<rect x="171.68" y="499.78" width="8.66" height="11.77" fill="#f0e89c"/>
<rect x="179.74" y="499.78" width="8.06" height="11.77" fill="#3a2020"/>
<rect x="147.5" y="510.95" width="8.66" height="11.77" fill="#f0e89c"/>
<rect x="155.56" y="510.95" width="8.66" height="11.77" fill="#e8e0a0"/>
<rect x="163.62" y="510.95" width="8.66" height="11.77" fill="#f0e89c"/>
<rect x="171.68" y="510.95" width="8.66" height="11.77" fill="#e8e0a0"/>
<rect x="179.74" y="510.95" width="8.06" height="11.77" fill="#6c6cb8"/>
<rect x="147.5" y="522.12" width="8.66" height="11.77" fill="#e8e0a0"/>
<rect x="155.56" y="522.12" width="8.66" height="11.77" fill="#e8e0a0"/>
<rect x="163.62" y="522.12" width="8.66" height="11.77" fill="#d8d0a8"/>
<rect x="171.68" y="522.12" width="8.66" height="11.77" fill="#e8e0a0"/>
<rect x="179.74" y="522.12" width="8.06" height="11.77" fill="#e8e0a0"/>
<rect x="147.5" y="533.29" width="8.66" height="11.77" fill="#f0e89c"/>
<rect x="155.56" y="533.29" width="8.66" height="11.77" fill="#d8d0a8"/>
<rect x="163.62" y="533.29" width="8.66" height="11.77" fill="#d8d0a8"/>
<rect x="171.68" y="533.29" width="8.66" height="11.77" fill="#f8f08e"/>
<rect x="179.74" y="533.29" width="8.06" height="11.77" fill="#f0e89c"/>
<rect x="147.5" y="544.46" width="8.66" height="11.77" fill="#f0e89c"/>
<rect x="155.56" y="544.46" width="8.66" height="11.77" fill="#f0e89c"/>
<rect x="163.62" y="544.46" width="8.66" height="11.77" fill="#f0e89c"/>
<rect x="171.68" y="544.46" width="8.66" height="11.77" fill="#f8f08e"/>
<rect x="179.74" y="544.46" width="8.06" height="11.77" fill="#f0e89c"/>
<rect x="147.5" y="555.63" width="8.66" height="11.77" fill="#e8e0a0"/>
<rect x="155.56" y="555.63" width="8.66" height="11.77" fill="#e8e0a0"/>
<rect x="163.62" y="555.63" width="8.66" height="11.77" fill="#e8e0a0"/>
<rect x="171.68" y="555.63" width="8.66" height="11.77" fill="#f0e89c"/>
<rect x="179.74" y="555.63" width="8.06" height="11.77" fill="#d8d0a8"/>
<rect x="147.5" y="566.8" width="8.66" height="11.77" fill="#e0d8a2"/>
<rect x="155.56" y="566.8" width="8.66" height="11.77" fill="#e8e0a0"/>
<rect x="163.62" y="566.8" width="8.66" height="11.77" fill="#e8e0a0"/>
<rect x="171.68" y="566.8" width="8.66" height="11.77" fill="#f8f08e"/>
<rect x="179.74" y="566.8" width="8.06" height="11.77" fill="#3c3292"/>
<rect x="147.5" y="577.97" width="8.66" height="11.77" fill="#e0d8a2"/>
<rect x="155.56" y="577.97" width="8.66" height="11.77" fill="#e0d8a2"/>
<rect x="163.62" y="577.97" width="8.66" height="11.77" fill="#e8e0a0"/>
<rect x="171.68" y="577.97" width="8.66" height="11.77" fill="#f0e89c"/>
<rect x="179.74" y="577.97" width="8.06" height="11.77" fill="#222228"/>
<rect x="147.5" y="589.14" width="8.66" height="11.17" fill="#f0e89c"/>
<rect x="155.56" y="589.14" width="8.66" height="11.17" fill="#e8e0a0"/>
<rect x="163.62" y="589.14" width="8.66" height="11.17" fill="#f0e89c"/>
<rect x="171.68" y="589.14" width="8.66" height="11.17" fill="#f0e89c"/>
<rect x="179.74" y="589.14" width="8.06" height="11.17" fill="#222228"/>
<text transform="translate(154.13,604.7) rotate(-90)" font-size="7.2" text-anchor="end" fill="#222">SPAD #73</text>
<text transform="translate(162.19,604.7) rotate(-90)" font-size="7.2" text-anchor="end" fill="#222">SPAD #76</text>
<text transform="translate(170.25,604.7) rotate(-90)" font-size="7.2" text-anchor="end" fill="#222">SPAD #72</text>
<text transform="translate(178.31,604.7) rotate(-90)" font-size="7.2" text-anchor="end" fill="#222">SPAD #74</text>
<text transform="translate(186.37,604.7) rotate(-90)" font-size="7.2" text-anchor="end" fill="#222">SPAD #75</text>
<rect x="190.5" y="455.1" width="8.74" height="11.77" fill="#222228"/>
<rect x="198.64" y="455.1" width="8.74" height="11.77" fill="#2e2020"/>
<rect x="206.78" y="455.1" width="8.74" height="11.77" fill="#4a2420"/>
<rect x="214.91" y="455.1" width="8.74" height="11.77" fill="#3c3292"/>
<rect x="223.05" y="455.1" width="8.74" height="11.77" fill="#3c3292"/>
<rect x="231.19" y="455.1" width="8.74" height="11.77" fill="#5a3080"/>
<rect x="239.32" y="455.1" width="8.74" height="11.77" fill="#222228"/>
<rect x="247.46" y="455.1" width="8.14" height="11.77" fill="#222228"/>
<rect x="190.5" y="466.27" width="8.74" height="11.77" fill="#222228"/>
<rect x="198.64" y="466.27" width="8.74" height="11.77" fill="#4a48a0"/>
<rect x="206.78" y="466.27" width="8.74" height="11.77" fill="#a8a4c2"/>
<rect x="214.91" y="466.27" width="8.74" height="11.77" fill="#5858a8"/>
<rect x="223.05" y="466.27" width="8.74" height="11.77" fill="#9898c8"/>
<rect x="231.19" y="466.27" width="8.74" height="11.77" fill="#3c3292"/>
<rect x="239.32" y="466.27" width="8.74" height="11.77" fill="#222228"/>
<rect x="247.46" y="466.27" width="8.14" height="11.77" fill="#222228"/>
<rect x="190.5" y="477.44" width="8.74" height="11.77" fill="#c0b8b0"/>
<rect x="198.64" y="477.44" width="8.74" height="11.77" fill="#b0aac0"/>
<rect x="206.78" y="477.44" width="8.74" height="11.77" fill="#d8d0a8"/>
<rect x="214.91" y="477.44" width="8.74" height="11.77" fill="#f0e89c"/>
<rect x="223.05" y="477.44" width="8.74" height="11.77" fill="#e0d8a2"/>
<rect x="231.19" y="477.44" width="8.74" height="11.77" fill="#e0d8a2"/>
<rect x="239.32" y="477.44" width="8.74" height="11.77" fill="#8c88c8"/>
<rect x="247.46" y="477.44" width="8.14" height="11.77" fill="#4a3a98"/>
<rect x="190.5" y="488.61" width="8.74" height="11.77" fill="#7a2820"/>
<rect x="198.64" y="488.61" width="8.74" height="11.77" fill="#3c3292"/>
<rect x="206.78" y="488.61" width="8.74" height="11.77" fill="#3c3292"/>
<rect x="214.91" y="488.61" width="8.74" height="11.77" fill="#6a2418"/>
<rect x="223.05" y="488.61" width="8.74" height="11.77" fill="#7c7cc2"/>
<rect x="231.19" y="488.61" width="8.74" height="11.77" fill="#b8b4b6"/>
<rect x="239.32" y="488.61" width="8.74" height="11.77" fill="#5a2452"/>
<rect x="247.46" y="488.61" width="8.14" height="11.77" fill="#222228"/>
<rect x="190.5" y="499.78" width="8.74" height="11.77" fill="#c0b8b0"/>
<rect x="198.64" y="499.78" width="8.74" height="11.77" fill="#f8f08e"/>
<rect x="206.78" y="499.78" width="8.74" height="11.77" fill="#d0c8a8"/>
<rect x="214.91" y="499.78" width="8.74" height="11.77" fill="#d0c8a8"/>
<rect x="223.05" y="499.78" width="8.74" height="11.77" fill="#d8d0a8"/>
<rect x="231.19" y="499.78" width="8.74" height="11.77" fill="#7c7cc2"/>
<rect x="239.32" y="499.78" width="8.74" height="11.77" fill="#7c7cc2"/>
<rect x="247.46" y="499.78" width="8.14" height="11.77" fill="#c0b8b0"/>
<rect x="190.5" y="510.95" width="8.74" height="11.77" fill="#f0e89c"/>
<rect x="198.64" y="510.95" width="8.74" height="11.77" fill="#f8f08e"/>
<rect x="206.78" y="510.95" width="8.74" height="11.77" fill="#d0c8a8"/>
<rect x="214.91" y="510.95" width="8.74" height="11.77" fill="#f0e89c"/>
<rect x="223.05" y="510.95" width="8.74" height="11.77" fill="#f0e89c"/>
<rect x="231.19" y="510.95" width="8.74" height="11.77" fill="#f0e89c"/>
<rect x="239.32" y="510.95" width="8.74" height="11.77" fill="#a8a4c2"/>
<rect x="247.46" y="510.95" width="8.14" height="11.77" fill="#3c3292"/>
<rect x="190.5" y="522.12" width="8.74" height="11.77" fill="#e0d8a2"/>
<rect x="198.64" y="522.12" width="8.74" height="11.77" fill="#e0d8a2"/>
<rect x="206.78" y="522.12" width="8.74" height="11.77" fill="#d8d0a8"/>
<rect x="214.91" y="522.12" width="8.74" height="11.77" fill="#f8f08e"/>
<rect x="223.05" y="522.12" width="8.74" height="11.77" fill="#e8e0a0"/>
<rect x="231.19" y="522.12" width="8.74" height="11.77" fill="#3c3292"/>
<rect x="239.32" y="522.12" width="8.74" height="11.77" fill="#3a2020"/>
<rect x="247.46" y="522.12" width="8.14" height="11.77" fill="#a8a4c2"/>
<rect x="190.5" y="533.29" width="8.74" height="11.77" fill="#f8f08e"/>
<rect x="198.64" y="533.29" width="8.74" height="11.77" fill="#f8f08e"/>
<rect x="206.78" y="533.29" width="8.74" height="11.77" fill="#c8c0ac"/>
<rect x="214.91" y="533.29" width="8.74" height="11.77" fill="#f8f08e"/>
<rect x="223.05" y="533.29" width="8.74" height="11.77" fill="#d8d0a8"/>
<rect x="231.19" y="533.29" width="8.74" height="11.77" fill="#f0e89c"/>
<rect x="239.32" y="533.29" width="8.74" height="11.77" fill="#f8f08e"/>
<rect x="247.46" y="533.29" width="8.14" height="11.77" fill="#f8f08e"/>
<rect x="190.5" y="544.46" width="8.74" height="11.77" fill="#f0e89c"/>
<rect x="198.64" y="544.46" width="8.74" height="11.77" fill="#f0e89c"/>
<rect x="206.78" y="544.46" width="8.74" height="11.77" fill="#d8d0a8"/>
<rect x="214.91" y="544.46" width="8.74" height="11.77" fill="#f8f08e"/>
<rect x="223.05" y="544.46" width="8.74" height="11.77" fill="#f8f08e"/>
<rect x="231.19" y="544.46" width="8.74" height="11.77" fill="#f8f08e"/>
<rect x="239.32" y="544.46" width="8.74" height="11.77" fill="#f8f08e"/>
<rect x="247.46" y="544.46" width="8.14" height="11.77" fill="#5a2452"/>
<rect x="190.5" y="555.63" width="8.74" height="11.77" fill="#e8e0a0"/>
<rect x="198.64" y="555.63" width="8.74" height="11.77" fill="#d8d0a8"/>
<rect x="206.78" y="555.63" width="8.74" height="11.77" fill="#e0d8a2"/>
<rect x="214.91" y="555.63" width="8.74" height="11.77" fill="#f8f08e"/>
<rect x="223.05" y="555.63" width="8.74" height="11.77" fill="#e8e0a0"/>
<rect x="231.19" y="555.63" width="8.74" height="11.77" fill="#e0d8a2"/>
<rect x="239.32" y="555.63" width="8.74" height="11.77" fill="#f0e89c"/>
<rect x="247.46" y="555.63" width="8.14" height="11.77" fill="#9090c8"/>
<rect x="190.5" y="566.8" width="8.74" height="11.77" fill="#e8e0a0"/>
<rect x="198.64" y="566.8" width="8.74" height="11.77" fill="#f0e89c"/>
<rect x="206.78" y="566.8" width="8.74" height="11.77" fill="#e0d8a2"/>
<rect x="214.91" y="566.8" width="8.74" height="11.77" fill="#f0e89c"/>
<rect x="223.05" y="566.8" width="8.74" height="11.77" fill="#e0d8a2"/>
<rect x="231.19" y="566.8" width="8.74" height="11.77" fill="#c8c0ac"/>
<rect x="239.32" y="566.8" width="8.74" height="11.77" fill="#f0e89c"/>
<rect x="247.46" y="566.8" width="8.14" height="11.77" fill="#4a3a98"/>
<rect x="190.5" y="577.97" width="8.74" height="11.77" fill="#b8b4b6"/>
<rect x="198.64" y="577.97" width="8.74" height="11.77" fill="#e8e0a0"/>
<rect x="206.78" y="577.97" width="8.74" height="11.77" fill="#b0aac0"/>
<rect x="214.91" y="577.97" width="8.74" height="11.77" fill="#9898c8"/>
<rect x="223.05" y="577.97" width="8.74" height="11.77" fill="#f0e89c"/>
<rect x="231.19" y="577.97" width="8.74" height="11.77" fill="#d0c8a8"/>
<rect x="239.32" y="577.97" width="8.74" height="11.77" fill="#3c3292"/>
<rect x="247.46" y="577.97" width="8.14" height="11.77" fill="#4a48a0"/>
<rect x="190.5" y="589.14" width="8.74" height="11.17" fill="#f0e89c"/>
<rect x="198.64" y="589.14" width="8.74" height="11.17" fill="#6a2418"/>
<rect x="206.78" y="589.14" width="8.74" height="11.17" fill="#e0d8a2"/>
<rect x="214.91" y="589.14" width="8.74" height="11.17" fill="#b0aac0"/>
<rect x="223.05" y="589.14" width="8.74" height="11.17" fill="#f8f08e"/>
<rect x="231.19" y="589.14" width="8.74" height="11.17" fill="#f8f08e"/>
<rect x="239.32" y="589.14" width="8.74" height="11.17" fill="#b0aac0"/>
<rect x="247.46" y="589.14" width="8.14" height="11.17" fill="#6060b0"/>
<text transform="translate(197.17,604.7) rotate(-90)" font-size="7.2" text-anchor="end" fill="#222">IgGSD #70</text>
<text transform="translate(205.31,604.7) rotate(-90)" font-size="7.2" text-anchor="end" fill="#222">IgGSD #65</text>
<text transform="translate(213.44,604.7) rotate(-90)" font-size="7.2" text-anchor="end" fill="#222">IgGSD #66</text>
<text transform="translate(221.58,604.7) rotate(-90)" font-size="7.2" text-anchor="end" fill="#222">IgGSD #68</text>
<text transform="translate(229.72,604.7) rotate(-90)" font-size="7.2" text-anchor="end" fill="#222">IgGSD #71</text>
<text transform="translate(237.86,604.7) rotate(-90)" font-size="7.2" text-anchor="end" fill="#222">IgGSD #67</text>
<text transform="translate(245.99,604.7) rotate(-90)" font-size="7.2" text-anchor="end" fill="#222">IgGSD #64</text>
<text transform="translate(254.13,604.7) rotate(-90)" font-size="7.2" text-anchor="end" fill="#222">IgGSD #69</text>
<rect x="259" y="455.1" width="8.15" height="11.77" fill="#222228"/>
<rect x="266.55" y="455.1" width="8.15" height="11.77" fill="#222228"/>
<rect x="274.09" y="455.1" width="8.15" height="11.77" fill="#222228"/>
<rect x="281.64" y="455.1" width="8.15" height="11.77" fill="#222228"/>
<rect x="289.18" y="455.1" width="8.15" height="11.77" fill="#4a2420"/>
<rect x="296.73" y="455.1" width="8.15" height="11.77" fill="#4a2420"/>
<rect x="304.27" y="455.1" width="8.15" height="11.77" fill="#3c3292"/>
<rect x="311.82" y="455.1" width="8.15" height="11.77" fill="#3c3292"/>
<rect x="319.36" y="455.1" width="8.15" height="11.77" fill="#5a2452"/>
<rect x="326.91" y="455.1" width="8.15" height="11.77" fill="#222228"/>
<rect x="334.45" y="455.1" width="7.55" height="11.77" fill="#222228"/>
<rect x="259" y="466.27" width="8.15" height="11.77" fill="#222228"/>
<rect x="266.55" y="466.27" width="8.15" height="11.77" fill="#f0e89c"/>
<rect x="274.09" y="466.27" width="8.15" height="11.77" fill="#d8d0a8"/>
<rect x="281.64" y="466.27" width="8.15" height="11.77" fill="#3c3292"/>
<rect x="289.18" y="466.27" width="8.15" height="11.77" fill="#a8a4c2"/>
<rect x="296.73" y="466.27" width="8.15" height="11.77" fill="#5050a8"/>
<rect x="304.27" y="466.27" width="8.15" height="11.77" fill="#3c3292"/>
<rect x="311.82" y="466.27" width="8.15" height="11.77" fill="#6a2418"/>
<rect x="319.36" y="466.27" width="8.15" height="11.77" fill="#7a2820"/>
<rect x="326.91" y="466.27" width="8.15" height="11.77" fill="#222228"/>
<rect x="334.45" y="466.27" width="7.55" height="11.77" fill="#222228"/>
<rect x="259" y="477.44" width="8.15" height="11.77" fill="#5a2420"/>
<rect x="266.55" y="477.44" width="8.15" height="11.77" fill="#f8f08e"/>
<rect x="274.09" y="477.44" width="8.15" height="11.77" fill="#e8e0a0"/>
<rect x="281.64" y="477.44" width="8.15" height="11.77" fill="#e8e0a0"/>
<rect x="289.18" y="477.44" width="8.15" height="11.77" fill="#d8d0a8"/>
<rect x="296.73" y="477.44" width="8.15" height="11.77" fill="#3c3292"/>
<rect x="304.27" y="477.44" width="8.15" height="11.77" fill="#b0aac0"/>
<rect x="311.82" y="477.44" width="8.15" height="11.77" fill="#c8c0ac"/>
<rect x="319.36" y="477.44" width="8.15" height="11.77" fill="#b0aac0"/>
<rect x="326.91" y="477.44" width="8.15" height="11.77" fill="#222228"/>
<rect x="334.45" y="477.44" width="7.55" height="11.77" fill="#c8c0ac"/>
<rect x="259" y="488.61" width="8.15" height="11.77" fill="#5a2452"/>
<rect x="266.55" y="488.61" width="8.15" height="11.77" fill="#d0c8a8"/>
<rect x="274.09" y="488.61" width="8.15" height="11.77" fill="#5858a8"/>
<rect x="281.64" y="488.61" width="8.15" height="11.77" fill="#7a2820"/>
<rect x="289.18" y="488.61" width="8.15" height="11.77" fill="#c0b8b0"/>
<rect x="296.73" y="488.61" width="8.15" height="11.77" fill="#682048"/>
<rect x="304.27" y="488.61" width="8.15" height="11.77" fill="#8c88c8"/>
<rect x="311.82" y="488.61" width="8.15" height="11.77" fill="#3c3292"/>
<rect x="319.36" y="488.61" width="8.15" height="11.77" fill="#7a2820"/>
<rect x="326.91" y="488.61" width="8.15" height="11.77" fill="#222228"/>
<rect x="334.45" y="488.61" width="7.55" height="11.77" fill="#222228"/>
<rect x="259" y="499.78" width="8.15" height="11.77" fill="#e8e0a0"/>
<rect x="266.55" y="499.78" width="8.15" height="11.77" fill="#f8f08e"/>
<rect x="274.09" y="499.78" width="8.15" height="11.77" fill="#e8e0a0"/>
<rect x="281.64" y="499.78" width="8.15" height="11.77" fill="#d0c8a8"/>
<rect x="289.18" y="499.78" width="8.15" height="11.77" fill="#e8e0a0"/>
<rect x="296.73" y="499.78" width="8.15" height="11.77" fill="#f8f08e"/>
<rect x="304.27" y="499.78" width="8.15" height="11.77" fill="#f0e89c"/>
<rect x="311.82" y="499.78" width="8.15" height="11.77" fill="#f8f08e"/>
<rect x="319.36" y="499.78" width="8.15" height="11.77" fill="#f8f08e"/>
<rect x="326.91" y="499.78" width="8.15" height="11.77" fill="#e8e0a0"/>
<rect x="334.45" y="499.78" width="7.55" height="11.77" fill="#f8f08e"/>
<rect x="259" y="510.95" width="8.15" height="11.77" fill="#b0aac0"/>
<rect x="266.55" y="510.95" width="8.15" height="11.77" fill="#f8f08e"/>
<rect x="274.09" y="510.95" width="8.15" height="11.77" fill="#222228"/>
<rect x="281.64" y="510.95" width="8.15" height="11.77" fill="#f8f08e"/>
<rect x="289.18" y="510.95" width="8.15" height="11.77" fill="#f8f08e"/>
<rect x="296.73" y="510.95" width="8.15" height="11.77" fill="#b8b4b6"/>
<rect x="304.27" y="510.95" width="8.15" height="11.77" fill="#e8e0a0"/>
<rect x="311.82" y="510.95" width="8.15" height="11.77" fill="#f0e89c"/>
<rect x="319.36" y="510.95" width="8.15" height="11.77" fill="#f0e89c"/>
<rect x="326.91" y="510.95" width="8.15" height="11.77" fill="#e8e0a0"/>
<rect x="334.45" y="510.95" width="7.55" height="11.77" fill="#f8f08e"/>
<rect x="259" y="522.12" width="8.15" height="11.77" fill="#f0e89c"/>
<rect x="266.55" y="522.12" width="8.15" height="11.77" fill="#f0e89c"/>
<rect x="274.09" y="522.12" width="8.15" height="11.77" fill="#e8e0a0"/>
<rect x="281.64" y="522.12" width="8.15" height="11.77" fill="#f0e89c"/>
<rect x="289.18" y="522.12" width="8.15" height="11.77" fill="#f0e89c"/>
<rect x="296.73" y="522.12" width="8.15" height="11.77" fill="#f0e89c"/>
<rect x="304.27" y="522.12" width="8.15" height="11.77" fill="#e8e0a0"/>
<rect x="311.82" y="522.12" width="8.15" height="11.77" fill="#f0e89c"/>
<rect x="319.36" y="522.12" width="8.15" height="11.77" fill="#f0e89c"/>
<rect x="326.91" y="522.12" width="8.15" height="11.77" fill="#c0b8b0"/>
<rect x="334.45" y="522.12" width="7.55" height="11.77" fill="#f8f08e"/>
<rect x="259" y="533.29" width="8.15" height="11.77" fill="#d0c8a8"/>
<rect x="266.55" y="533.29" width="8.15" height="11.77" fill="#f8f08e"/>
<rect x="274.09" y="533.29" width="8.15" height="11.77" fill="#7a2820"/>
<rect x="281.64" y="533.29" width="8.15" height="11.77" fill="#f8f08e"/>
<rect x="289.18" y="533.29" width="8.15" height="11.77" fill="#f0e89c"/>
<rect x="296.73" y="533.29" width="8.15" height="11.77" fill="#d0c8a8"/>
<rect x="304.27" y="533.29" width="8.15" height="11.77" fill="#e8e0a0"/>
<rect x="311.82" y="533.29" width="8.15" height="11.77" fill="#f0e89c"/>
<rect x="319.36" y="533.29" width="8.15" height="11.77" fill="#f0e89c"/>
<rect x="326.91" y="533.29" width="8.15" height="11.77" fill="#f8f08e"/>
<rect x="334.45" y="533.29" width="7.55" height="11.77" fill="#f8f08e"/>
<rect x="259" y="544.46" width="8.15" height="11.77" fill="#f0e89c"/>
<rect x="266.55" y="544.46" width="8.15" height="11.77" fill="#f0e89c"/>
<rect x="274.09" y="544.46" width="8.15" height="11.77" fill="#3c3292"/>
<rect x="281.64" y="544.46" width="8.15" height="11.77" fill="#f8f08e"/>
<rect x="289.18" y="544.46" width="8.15" height="11.77" fill="#f8f08e"/>
<rect x="296.73" y="544.46" width="8.15" height="11.77" fill="#f0e89c"/>
<rect x="304.27" y="544.46" width="8.15" height="11.77" fill="#f0e89c"/>
<rect x="311.82" y="544.46" width="8.15" height="11.77" fill="#f8f08e"/>
<rect x="319.36" y="544.46" width="8.15" height="11.77" fill="#f8f08e"/>
<rect x="326.91" y="544.46" width="8.15" height="11.77" fill="#f8f08e"/>
<rect x="334.45" y="544.46" width="7.55" height="11.77" fill="#7c7cc2"/>
<rect x="259" y="555.63" width="8.15" height="11.77" fill="#d8d0a8"/>
<rect x="266.55" y="555.63" width="8.15" height="11.77" fill="#f0e89c"/>
<rect x="274.09" y="555.63" width="8.15" height="11.77" fill="#e0d8a2"/>
<rect x="281.64" y="555.63" width="8.15" height="11.77" fill="#f0e89c"/>
<rect x="289.18" y="555.63" width="8.15" height="11.77" fill="#e0d8a2"/>
<rect x="296.73" y="555.63" width="8.15" height="11.77" fill="#a8a4c2"/>
<rect x="304.27" y="555.63" width="8.15" height="11.77" fill="#e0d8a2"/>
<rect x="311.82" y="555.63" width="8.15" height="11.77" fill="#e8e0a0"/>
<rect x="319.36" y="555.63" width="8.15" height="11.77" fill="#e0d8a2"/>
<rect x="326.91" y="555.63" width="8.15" height="11.77" fill="#a8a4c2"/>
<rect x="334.45" y="555.63" width="7.55" height="11.77" fill="#f8f08e"/>
<rect x="259" y="566.8" width="8.15" height="11.77" fill="#f0e89c"/>
<rect x="266.55" y="566.8" width="8.15" height="11.77" fill="#f0e89c"/>
<rect x="274.09" y="566.8" width="8.15" height="11.77" fill="#e0d8a2"/>
<rect x="281.64" y="566.8" width="8.15" height="11.77" fill="#f0e89c"/>
<rect x="289.18" y="566.8" width="8.15" height="11.77" fill="#f0e89c"/>
<rect x="296.73" y="566.8" width="8.15" height="11.77" fill="#f0e89c"/>
<rect x="304.27" y="566.8" width="8.15" height="11.77" fill="#e0d8a2"/>
<rect x="311.82" y="566.8" width="8.15" height="11.77" fill="#e8e0a0"/>
<rect x="319.36" y="566.8" width="8.15" height="11.77" fill="#f8f08e"/>
<rect x="326.91" y="566.8" width="8.15" height="11.77" fill="#6060b0"/>
<rect x="334.45" y="566.8" width="7.55" height="11.77" fill="#f8f08e"/>
<rect x="259" y="577.97" width="8.15" height="11.77" fill="#d0c8a8"/>
<rect x="266.55" y="577.97" width="8.15" height="11.77" fill="#f8f08e"/>
<rect x="274.09" y="577.97" width="8.15" height="11.77" fill="#e0d8a2"/>
<rect x="281.64" y="577.97" width="8.15" height="11.77" fill="#7c7cc2"/>
<rect x="289.18" y="577.97" width="8.15" height="11.77" fill="#c8c0ac"/>
<rect x="296.73" y="577.97" width="8.15" height="11.77" fill="#b0aac0"/>
<rect x="304.27" y="577.97" width="8.15" height="11.77" fill="#f0e89c"/>
<rect x="311.82" y="577.97" width="8.15" height="11.77" fill="#f0e89c"/>
<rect x="319.36" y="577.97" width="8.15" height="11.77" fill="#c8c0ac"/>
<rect x="326.91" y="577.97" width="8.15" height="11.77" fill="#7c7cc2"/>
<rect x="334.45" y="577.97" width="7.55" height="11.77" fill="#9898c8"/>
<rect x="259" y="589.14" width="8.15" height="11.17" fill="#e0d8a2"/>
<rect x="266.55" y="589.14" width="8.15" height="11.17" fill="#222228"/>
<rect x="274.09" y="589.14" width="8.15" height="11.17" fill="#d0c8a8"/>
<rect x="281.64" y="589.14" width="8.15" height="11.17" fill="#c8c0ac"/>
<rect x="289.18" y="589.14" width="8.15" height="11.17" fill="#e8e0a0"/>
<rect x="296.73" y="589.14" width="8.15" height="11.17" fill="#f8f08e"/>
<rect x="304.27" y="589.14" width="8.15" height="11.17" fill="#f0e89c"/>
<rect x="311.82" y="589.14" width="8.15" height="11.17" fill="#f0e89c"/>
<rect x="319.36" y="589.14" width="8.15" height="11.17" fill="#e8e0a0"/>
<rect x="326.91" y="589.14" width="8.15" height="11.17" fill="#c8c0ac"/>
<rect x="334.45" y="589.14" width="7.55" height="11.17" fill="#f8f08e"/>
<text transform="translate(265.37,604.7) rotate(-90)" font-size="7.2" text-anchor="end" fill="#222">HGG #45</text>
<text transform="translate(272.92,604.7) rotate(-90)" font-size="7.2" text-anchor="end" fill="#222">HGG #49</text>
<text transform="translate(280.46,604.7) rotate(-90)" font-size="7.2" text-anchor="end" fill="#222">HGG #39</text>
<text transform="translate(288.01,604.7) rotate(-90)" font-size="7.2" text-anchor="end" fill="#222">HGG #61</text>
<text transform="translate(295.55,604.7) rotate(-90)" font-size="7.2" text-anchor="end" fill="#222">HGG #47</text>
<text transform="translate(303.1,604.7) rotate(-90)" font-size="7.2" text-anchor="end" fill="#222">HGG #57</text>
<text transform="translate(310.65,604.7) rotate(-90)" font-size="7.2" text-anchor="end" fill="#222">HGG #53</text>
<text transform="translate(318.19,604.7) rotate(-90)" font-size="7.2" text-anchor="end" fill="#222">HGG #59</text>
<text transform="translate(325.74,604.7) rotate(-90)" font-size="7.2" text-anchor="end" fill="#222">HGG #42</text>
<text transform="translate(333.28,604.7) rotate(-90)" font-size="7.2" text-anchor="end" fill="#222">HGG #35</text>
<text transform="translate(340.83,604.7) rotate(-90)" font-size="7.2" text-anchor="end" fill="#222">HGG #32</text>
<rect x="344.7" y="455.1" width="8.08" height="11.77" fill="#222228"/>
<rect x="352.18" y="455.1" width="8.08" height="11.77" fill="#6c6cb8"/>
<rect x="359.67" y="455.1" width="8.08" height="11.77" fill="#4a3a98"/>
<rect x="367.15" y="455.1" width="8.08" height="11.77" fill="#4a48a0"/>
<rect x="374.63" y="455.1" width="8.08" height="11.77" fill="#4a48a0"/>
<rect x="382.12" y="455.1" width="8.08" height="11.77" fill="#222228"/>
<rect x="389.6" y="455.1" width="8.08" height="11.77" fill="#4a2420"/>
<rect x="397.08" y="455.1" width="8.08" height="11.77" fill="#5a2420"/>
<rect x="404.57" y="455.1" width="8.08" height="11.77" fill="#222228"/>
<rect x="412.05" y="455.1" width="8.08" height="11.77" fill="#222228"/>
<rect x="419.53" y="455.1" width="8.08" height="11.77" fill="#222228"/>
<rect x="427.02" y="455.1" width="7.48" height="11.77" fill="#222228"/>
<rect x="344.7" y="466.27" width="8.08" height="11.77" fill="#222228"/>
<rect x="352.18" y="466.27" width="8.08" height="11.77" fill="#6c6cb8"/>
<rect x="359.67" y="466.27" width="8.08" height="11.77" fill="#e8e0a0"/>
<rect x="367.15" y="466.27" width="8.08" height="11.77" fill="#f0e89c"/>
<rect x="374.63" y="466.27" width="8.08" height="11.77" fill="#e0d8a2"/>
<rect x="382.12" y="466.27" width="8.08" height="11.77" fill="#e0d8a2"/>
<rect x="389.6" y="466.27" width="8.08" height="11.77" fill="#5050a8"/>
<rect x="397.08" y="466.27" width="8.08" height="11.77" fill="#4a3a98"/>
<rect x="404.57" y="466.27" width="8.08" height="11.77" fill="#222228"/>
<rect x="412.05" y="466.27" width="8.08" height="11.77" fill="#f8f08e"/>
<rect x="419.53" y="466.27" width="8.08" height="11.77" fill="#e0d8a2"/>
<rect x="427.02" y="466.27" width="7.48" height="11.77" fill="#222228"/>
<rect x="344.7" y="477.44" width="8.08" height="11.77" fill="#f0e89c"/>
<rect x="352.18" y="477.44" width="8.08" height="11.77" fill="#e0d8a2"/>
<rect x="359.67" y="477.44" width="8.08" height="11.77" fill="#e8e0a0"/>
<rect x="367.15" y="477.44" width="8.08" height="11.77" fill="#f0e89c"/>
<rect x="374.63" y="477.44" width="8.08" height="11.77" fill="#e8e0a0"/>
<rect x="382.12" y="477.44" width="8.08" height="11.77" fill="#f8f08e"/>
<rect x="389.6" y="477.44" width="8.08" height="11.77" fill="#9090c8"/>
<rect x="397.08" y="477.44" width="8.08" height="11.77" fill="#9898c8"/>
<rect x="404.57" y="477.44" width="8.08" height="11.77" fill="#5a2452"/>
<rect x="412.05" y="477.44" width="8.08" height="11.77" fill="#3c3292"/>
<rect x="419.53" y="477.44" width="8.08" height="11.77" fill="#f8f08e"/>
<rect x="427.02" y="477.44" width="7.48" height="11.77" fill="#222228"/>
<rect x="344.7" y="488.61" width="8.08" height="11.77" fill="#d8d0a8"/>
<rect x="352.18" y="488.61" width="8.08" height="11.77" fill="#c8c0ac"/>
<rect x="359.67" y="488.61" width="8.08" height="11.77" fill="#d8d0a8"/>
<rect x="367.15" y="488.61" width="8.08" height="11.77" fill="#f0e89c"/>
<rect x="374.63" y="488.61" width="8.08" height="11.77" fill="#e8e0a0"/>
<rect x="382.12" y="488.61" width="8.08" height="11.77" fill="#4a48a0"/>
<rect x="389.6" y="488.61" width="8.08" height="11.77" fill="#3c3292"/>
<rect x="397.08" y="488.61" width="8.08" height="11.77" fill="#4a3a98"/>
<rect x="404.57" y="488.61" width="8.08" height="11.77" fill="#6a2418"/>
<rect x="412.05" y="488.61" width="8.08" height="11.77" fill="#f8f08e"/>
<rect x="419.53" y="488.61" width="8.08" height="11.77" fill="#d0c8a8"/>
<rect x="427.02" y="488.61" width="7.48" height="11.77" fill="#222228"/>
<rect x="344.7" y="499.78" width="8.08" height="11.77" fill="#f0e89c"/>
<rect x="352.18" y="499.78" width="8.08" height="11.77" fill="#e0d8a2"/>
<rect x="359.67" y="499.78" width="8.08" height="11.77" fill="#f0e89c"/>
<rect x="367.15" y="499.78" width="8.08" height="11.77" fill="#f8f08e"/>
<rect x="374.63" y="499.78" width="8.08" height="11.77" fill="#e8e0a0"/>
<rect x="382.12" y="499.78" width="8.08" height="11.77" fill="#f8f08e"/>
<rect x="389.6" y="499.78" width="8.08" height="11.77" fill="#e8e0a0"/>
<rect x="397.08" y="499.78" width="8.08" height="11.77" fill="#e8e0a0"/>
<rect x="404.57" y="499.78" width="8.08" height="11.77" fill="#d0c8a8"/>
<rect x="412.05" y="499.78" width="8.08" height="11.77" fill="#f0e89c"/>
<rect x="419.53" y="499.78" width="8.08" height="11.77" fill="#f0e89c"/>
<rect x="427.02" y="499.78" width="7.48" height="11.77" fill="#d8d0a8"/>
<rect x="344.7" y="510.95" width="8.08" height="11.77" fill="#f0e89c"/>
<rect x="352.18" y="510.95" width="8.08" height="11.77" fill="#e8e0a0"/>
<rect x="359.67" y="510.95" width="8.08" height="11.77" fill="#c0b8b0"/>
<rect x="367.15" y="510.95" width="8.08" height="11.77" fill="#f8f08e"/>
<rect x="374.63" y="510.95" width="8.08" height="11.77" fill="#e8e0a0"/>
<rect x="382.12" y="510.95" width="8.08" height="11.77" fill="#f8f08e"/>
<rect x="389.6" y="510.95" width="8.08" height="11.77" fill="#e8e0a0"/>
<rect x="397.08" y="510.95" width="8.08" height="11.77" fill="#f0e89c"/>
<rect x="404.57" y="510.95" width="8.08" height="11.77" fill="#d0c8a8"/>
<rect x="412.05" y="510.95" width="8.08" height="11.77" fill="#f8f08e"/>
<rect x="419.53" y="510.95" width="8.08" height="11.77" fill="#f8f08e"/>
<rect x="427.02" y="510.95" width="7.48" height="11.77" fill="#f8f08e"/>
<rect x="344.7" y="522.12" width="8.08" height="11.77" fill="#e8e0a0"/>
<rect x="352.18" y="522.12" width="8.08" height="11.77" fill="#e0d8a2"/>
<rect x="359.67" y="522.12" width="8.08" height="11.77" fill="#e8e0a0"/>
<rect x="367.15" y="522.12" width="8.08" height="11.77" fill="#f8f08e"/>
<rect x="374.63" y="522.12" width="8.08" height="11.77" fill="#e0d8a2"/>
<rect x="382.12" y="522.12" width="8.08" height="11.77" fill="#f0e89c"/>
<rect x="389.6" y="522.12" width="8.08" height="11.77" fill="#c8c0ac"/>
<rect x="397.08" y="522.12" width="8.08" height="11.77" fill="#f0e89c"/>
<rect x="404.57" y="522.12" width="8.08" height="11.77" fill="#c8c0ac"/>
<rect x="412.05" y="522.12" width="8.08" height="11.77" fill="#f8f08e"/>
<rect x="419.53" y="522.12" width="8.08" height="11.77" fill="#f8f08e"/>
<rect x="427.02" y="522.12" width="7.48" height="11.77" fill="#e0d8a2"/>
<rect x="344.7" y="533.29" width="8.08" height="11.77" fill="#e0d8a2"/>
<rect x="352.18" y="533.29" width="8.08" height="11.77" fill="#e0d8a2"/>
<rect x="359.67" y="533.29" width="8.08" height="11.77" fill="#e0d8a2"/>
<rect x="367.15" y="533.29" width="8.08" height="11.77" fill="#f8f08e"/>
<rect x="374.63" y="533.29" width="8.08" height="11.77" fill="#e0d8a2"/>
<rect x="382.12" y="533.29" width="8.08" height="11.77" fill="#f8f08e"/>
<rect x="389.6" y="533.29" width="8.08" height="11.77" fill="#e0d8a2"/>
<rect x="397.08" y="533.29" width="8.08" height="11.77" fill="#e8e0a0"/>
<rect x="404.57" y="533.29" width="8.08" height="11.77" fill="#e0d8a2"/>
<rect x="412.05" y="533.29" width="8.08" height="11.77" fill="#f8f08e"/>
<rect x="419.53" y="533.29" width="8.08" height="11.77" fill="#f8f08e"/>
<rect x="427.02" y="533.29" width="7.48" height="11.77" fill="#c8c0ac"/>
<rect x="344.7" y="544.46" width="8.08" height="11.77" fill="#f0e89c"/>
<rect x="352.18" y="544.46" width="8.08" height="11.77" fill="#f0e89c"/>
<rect x="359.67" y="544.46" width="8.08" height="11.77" fill="#f8f08e"/>
<rect x="367.15" y="544.46" width="8.08" height="11.77" fill="#f8f08e"/>
<rect x="374.63" y="544.46" width="8.08" height="11.77" fill="#f0e89c"/>
<rect x="382.12" y="544.46" width="8.08" height="11.77" fill="#f8f08e"/>
<rect x="389.6" y="544.46" width="8.08" height="11.77" fill="#e8e0a0"/>
<rect x="397.08" y="544.46" width="8.08" height="11.77" fill="#f8f08e"/>
<rect x="404.57" y="544.46" width="8.08" height="11.77" fill="#f8f08e"/>
<rect x="412.05" y="544.46" width="8.08" height="11.77" fill="#f8f08e"/>
<rect x="419.53" y="544.46" width="8.08" height="11.77" fill="#f8f08e"/>
<rect x="427.02" y="544.46" width="7.48" height="11.77" fill="#f8f08e"/>
<rect x="344.7" y="555.63" width="8.08" height="11.77" fill="#e8e0a0"/>
<rect x="352.18" y="555.63" width="8.08" height="11.77" fill="#d0c8a8"/>
<rect x="359.67" y="555.63" width="8.08" height="11.77" fill="#c8c0ac"/>
<rect x="367.15" y="555.63" width="8.08" height="11.77" fill="#f8f08e"/>
<rect x="374.63" y="555.63" width="8.08" height="11.77" fill="#e0d8a2"/>
<rect x="382.12" y="555.63" width="8.08" height="11.77" fill="#e8e0a0"/>
<rect x="389.6" y="555.63" width="8.08" height="11.77" fill="#c0b8b0"/>
<rect x="397.08" y="555.63" width="8.08" height="11.77" fill="#f0e89c"/>
<rect x="404.57" y="555.63" width="8.08" height="11.77" fill="#c8c0ac"/>
<rect x="412.05" y="555.63" width="8.08" height="11.77" fill="#f8f08e"/>
<rect x="419.53" y="555.63" width="8.08" height="11.77" fill="#f8f08e"/>
<rect x="427.02" y="555.63" width="7.48" height="11.77" fill="#f0e89c"/>
<rect x="344.7" y="566.8" width="8.08" height="11.77" fill="#e8e0a0"/>
<rect x="352.18" y="566.8" width="8.08" height="11.77" fill="#e0d8a2"/>
<rect x="359.67" y="566.8" width="8.08" height="11.77" fill="#e0d8a2"/>
<rect x="367.15" y="566.8" width="8.08" height="11.77" fill="#f0e89c"/>
<rect x="374.63" y="566.8" width="8.08" height="11.77" fill="#e0d8a2"/>
<rect x="382.12" y="566.8" width="8.08" height="11.77" fill="#f0e89c"/>
<rect x="389.6" y="566.8" width="8.08" height="11.77" fill="#e0d8a2"/>
<rect x="397.08" y="566.8" width="8.08" height="11.77" fill="#e8e0a0"/>
<rect x="404.57" y="566.8" width="8.08" height="11.77" fill="#e0d8a2"/>
<rect x="412.05" y="566.8" width="8.08" height="11.77" fill="#f8f08e"/>
<rect x="419.53" y="566.8" width="8.08" height="11.77" fill="#f8f08e"/>
<rect x="427.02" y="566.8" width="7.48" height="11.77" fill="#e0d8a2"/>
<rect x="344.7" y="577.97" width="8.08" height="11.77" fill="#d8d0a8"/>
<rect x="352.18" y="577.97" width="8.08" height="11.77" fill="#d8d0a8"/>
<rect x="359.67" y="577.97" width="8.08" height="11.77" fill="#d8d0a8"/>
<rect x="367.15" y="577.97" width="8.08" height="11.77" fill="#f8f08e"/>
<rect x="374.63" y="577.97" width="8.08" height="11.77" fill="#d8d0a8"/>
<rect x="382.12" y="577.97" width="8.08" height="11.77" fill="#d8d0a8"/>
<rect x="389.6" y="577.97" width="8.08" height="11.77" fill="#d8d0a8"/>
<rect x="397.08" y="577.97" width="8.08" height="11.77" fill="#d8d0a8"/>
<rect x="404.57" y="577.97" width="8.08" height="11.77" fill="#c8c0ac"/>
<rect x="412.05" y="577.97" width="8.08" height="11.77" fill="#f8f08e"/>
<rect x="419.53" y="577.97" width="8.08" height="11.77" fill="#f0e89c"/>
<rect x="427.02" y="577.97" width="7.48" height="11.77" fill="#b8b4b6"/>
<rect x="344.7" y="589.14" width="8.08" height="11.17" fill="#f0e89c"/>
<rect x="352.18" y="589.14" width="8.08" height="11.17" fill="#f0e89c"/>
<rect x="359.67" y="589.14" width="8.08" height="11.17" fill="#e0d8a2"/>
<rect x="367.15" y="589.14" width="8.08" height="11.17" fill="#f8f08e"/>
<rect x="374.63" y="589.14" width="8.08" height="11.17" fill="#e0d8a2"/>
<rect x="382.12" y="589.14" width="8.08" height="11.17" fill="#f8f08e"/>
<rect x="389.6" y="589.14" width="8.08" height="11.17" fill="#e8e0a0"/>
<rect x="397.08" y="589.14" width="8.08" height="11.17" fill="#e8e0a0"/>
<rect x="404.57" y="589.14" width="8.08" height="11.17" fill="#e0d8a2"/>
<rect x="412.05" y="589.14" width="8.08" height="11.17" fill="#f8f08e"/>
<rect x="419.53" y="589.14" width="8.08" height="11.17" fill="#f0e89c"/>
<rect x="427.02" y="589.14" width="7.48" height="11.17" fill="#f0e89c"/>
<text transform="translate(351.04,604.7) rotate(-90)" font-size="7.2" text-anchor="end" fill="#222">CVID #18</text>
<text transform="translate(358.53,604.7) rotate(-90)" font-size="7.2" text-anchor="end" fill="#222">CVID #19</text>
<text transform="translate(366.01,604.7) rotate(-90)" font-size="7.2" text-anchor="end" fill="#222">CVID #26</text>
<text transform="translate(373.49,604.7) rotate(-90)" font-size="7.2" text-anchor="end" fill="#222">CVID #16</text>
<text transform="translate(380.98,604.7) rotate(-90)" font-size="7.2" text-anchor="end" fill="#222">CVID #25</text>
<text transform="translate(388.46,604.7) rotate(-90)" font-size="7.2" text-anchor="end" fill="#222">CVID #9</text>
<text transform="translate(395.94,604.7) rotate(-90)" font-size="7.2" text-anchor="end" fill="#222">CVID #13</text>
<text transform="translate(403.43,604.7) rotate(-90)" font-size="7.2" text-anchor="end" fill="#222">CVID #14</text>
<text transform="translate(410.91,604.7) rotate(-90)" font-size="7.2" text-anchor="end" fill="#222">CVID #11</text>
<text transform="translate(418.39,604.7) rotate(-90)" font-size="7.2" text-anchor="end" fill="#222">CVID #15</text>
<text transform="translate(425.88,604.7) rotate(-90)" font-size="7.2" text-anchor="end" fill="#222">CVID #21</text>
<text transform="translate(433.36,604.7) rotate(-90)" font-size="7.2" text-anchor="end" fill="#222">CVID #24</text>
<rect x="437.4" y="455.1" width="8.1" height="11.77" fill="#5a2452"/>
<rect x="444.9" y="455.1" width="7.5" height="11.77" fill="#222228"/>
<rect x="437.4" y="466.27" width="8.1" height="11.77" fill="#7c7cc2"/>
<rect x="444.9" y="466.27" width="7.5" height="11.77" fill="#a8a4c2"/>
<rect x="437.4" y="477.44" width="8.1" height="11.77" fill="#e0d8a2"/>
<rect x="444.9" y="477.44" width="7.5" height="11.77" fill="#d8d0a8"/>
<rect x="437.4" y="488.61" width="8.1" height="11.77" fill="#d8d0a8"/>
<rect x="444.9" y="488.61" width="7.5" height="11.77" fill="#c0b8b0"/>
<rect x="437.4" y="499.78" width="8.1" height="11.77" fill="#f0e89c"/>
<rect x="444.9" y="499.78" width="7.5" height="11.77" fill="#f0e89c"/>
<rect x="437.4" y="510.95" width="8.1" height="11.77" fill="#e0d8a2"/>
<rect x="444.9" y="510.95" width="7.5" height="11.77" fill="#f0e89c"/>
<rect x="437.4" y="522.12" width="8.1" height="11.77" fill="#e0d8a2"/>
<rect x="444.9" y="522.12" width="7.5" height="11.77" fill="#f0e89c"/>
<rect x="437.4" y="533.29" width="8.1" height="11.77" fill="#f0e89c"/>
<rect x="444.9" y="533.29" width="7.5" height="11.77" fill="#f0e89c"/>
<rect x="437.4" y="544.46" width="8.1" height="11.77" fill="#f0e89c"/>
<rect x="444.9" y="544.46" width="7.5" height="11.77" fill="#f0e89c"/>
<rect x="437.4" y="555.63" width="8.1" height="11.77" fill="#d8d0a8"/>
<rect x="444.9" y="555.63" width="7.5" height="11.77" fill="#f0e89c"/>
<rect x="437.4" y="566.8" width="8.1" height="11.77" fill="#d8d0a8"/>
<rect x="444.9" y="566.8" width="7.5" height="11.77" fill="#f0e89c"/>
<rect x="437.4" y="577.97" width="8.1" height="11.77" fill="#e0d8a2"/>
<rect x="444.9" y="577.97" width="7.5" height="11.77" fill="#c8c0ac"/>
<rect x="437.4" y="589.14" width="8.1" height="11.17" fill="#f0e89c"/>
<rect x="444.9" y="589.14" width="7.5" height="11.17" fill="#f0e89c"/>
<text transform="translate(443.75,604.7) rotate(-90)" font-size="7.2" text-anchor="end" fill="#222">CVID PPV<tspan font-size="4.6" dy="-2.9">low</tspan><tspan dy="2.9"> #17</tspan></text>
<text transform="translate(451.25,604.7) rotate(-90)" font-size="7.2" text-anchor="end" fill="#222">CVID PPV<tspan font-size="4.6" dy="-2.9">low</tspan><tspan dy="2.9"> #7</tspan></text>
<text x="100" y="417.6" font-size="7.2" text-anchor="middle" fill="#222" >HD</text>
<text x="167.7" y="417.8" font-size="7.2" text-anchor="middle" fill="#222" >SPAD</text>
<text x="223.2" y="418" font-size="7.2" text-anchor="middle" fill="#222" >IgGSD</text>
<text x="300" y="417.9" font-size="7.2" text-anchor="middle" fill="#222" >HGG</text>
<text x="388.9" y="417.7" font-size="7.2" text-anchor="middle" fill="#222" >CVID</text>
<text x="429.2" y="417.8" font-size="7.2" fill="#222" >CVID PPV<tspan font-size="4.6" dy="-2.9">low</tspan><tspan dy="2.9"></tspan></text>
<text x="455.7" y="463.79" font-size="7.2" fill="#222" >Forssman antigen</text>
<text x="455.7" y="474.96" font-size="7.2" fill="#222" >Globoside</text>
<text x="455.7" y="486.13" font-size="7.2" fill="#222" >Globo H</text>
<text x="455.7" y="497.3" font-size="7.2" fill="#222" >SSEA-4 hexaose</text>
<text x="455.7" y="508.47" font-size="7.2" fill="#222" >Fucosyl GM1</text>
<text x="455.7" y="519.64" font-size="7.2" fill="#222" >GM3</text>
<text x="455.7" y="530.81" font-size="7.2" fill="#222" >Lewis<tspan font-size="4.8" dy="-3.2">Y</tspan><tspan dy="3.2"> antigen</tspan></text>
<text x="455.7" y="541.98" font-size="7.2" fill="#222" >GD3</text>
<text x="455.7" y="553.15" font-size="7.2" fill="#222" >GD2</text>
<text x="455.7" y="564.32" font-size="7.2" fill="#222" >SSEA-1Lewis<tspan font-size="4.8" dy="-3.2">X</tspan><tspan dy="3.2"></tspan></text>
<text x="455.7" y="575.49" font-size="7.2" fill="#222" >Sialyl Lewis<tspan font-size="4.8" dy="-3.2">X</tspan><tspan dy="3.2"></tspan></text>
<text x="455.7" y="586.66" font-size="7.2" fill="#222" >GM1</text>
<text x="455.7" y="597.83" font-size="7.2" fill="#222" >GM2</text>
<path d="M60.25,452.3 L60.25,435.4 L67.46,435.4 L67.46,452.3" fill="none" stroke="#383838" stroke-width="0.95"/>
<path d="M89.09,452.3 L89.09,450.3 L96.3,450.3 L96.3,452.3" fill="none" stroke="#383838" stroke-width="0.95"/>
<path d="M81.88,452.3 L81.88,446.2 L92.69,446.2 L92.69,450.3" fill="none" stroke="#383838" stroke-width="0.95"/>
<path d="M74.67,452.3 L74.67,444.5 L87.29,444.5 L87.29,446.2" fill="none" stroke="#383838" stroke-width="0.95"/>
<path d="M103.51,452.3 L103.51,443.6 L110.72,443.6 L110.72,452.3" fill="none" stroke="#383838" stroke-width="0.95"/>
<path d="M132.35,452.3 L132.35,447.9 L139.56,447.9 L139.56,452.3" fill="none" stroke="#383838" stroke-width="0.95"/>
<path d="M125.14,452.3 L125.14,447.4 L135.95,447.4 L135.95,447.9" fill="none" stroke="#383838" stroke-width="0.95"/>
<path d="M117.93,452.3 L117.93,443.4 L130.55,443.4 L130.55,447.4" fill="none" stroke="#383838" stroke-width="0.95"/>
<path d="M107.11,443.6 L107.11,440 L124.24,440 L124.24,443.4" fill="none" stroke="#383838" stroke-width="0.95"/>
<path d="M80.98,444.5 L80.98,436.2 L115.68,436.2 L115.68,440" fill="none" stroke="#383838" stroke-width="0.95"/>
<path d="M63.85,435.4 L63.85,427.2 L98.33,427.2 L98.33,436.2" fill="none" stroke="#383838" stroke-width="0.95"/>
<path d="M159.59,452.3 L159.59,448.3 L167.65,448.3 L167.65,452.3" fill="none" stroke="#383838" stroke-width="0.95"/>
<path d="M163.62,448.3 L163.62,441.7 L175.71,441.7 L175.71,452.3" fill="none" stroke="#383838" stroke-width="0.95"/>
<path d="M169.67,441.7 L169.67,436.2 L183.77,436.2 L183.77,452.3" fill="none" stroke="#383838" stroke-width="0.95"/>
<path d="M151.53,452.3 L151.53,427.5 L176.72,427.5 L176.72,436.2" fill="none" stroke="#383838" stroke-width="0.95"/>
<path d="M243.39,452.3 L243.39,446.1 L251.53,446.1 L251.53,452.3" fill="none" stroke="#383838" stroke-width="0.95"/>
<path d="M227.12,452.3 L227.12,451 L235.26,451 L235.26,452.3" fill="none" stroke="#383838" stroke-width="0.95"/>
<path d="M218.98,452.3 L218.98,450.3 L231.19,450.3 L231.19,451" fill="none" stroke="#383838" stroke-width="0.95"/>
<path d="M210.84,452.3 L210.84,449.3 L225.08,449.3 L225.08,450.3" fill="none" stroke="#383838" stroke-width="0.95"/>
<path d="M202.71,452.3 L202.71,448.5 L217.96,448.5 L217.96,449.3" fill="none" stroke="#383838" stroke-width="0.95"/>
<path d="M210.34,448.5 L210.34,442.2 L247.46,442.2 L247.46,446.1" fill="none" stroke="#383838" stroke-width="0.95"/>
<path d="M194.57,452.3 L194.57,427.4 L228.9,427.4 L228.9,442.2" fill="none" stroke="#383838" stroke-width="0.95"/>
<path d="M331.2,452.3 L331.2,435.8 L338.9,435.8 L338.9,452.3" fill="none" stroke="#383838" stroke-width="0.95"/>
<path d="M315.8,452.3 L315.8,451 L323.5,451 L323.5,452.3" fill="none" stroke="#383838" stroke-width="0.95"/>
<path d="M308.1,452.3 L308.1,450.6 L319.65,450.6 L319.65,451" fill="none" stroke="#383838" stroke-width="0.95"/>
<path d="M300.4,452.3 L300.4,450 L313.88,450 L313.88,450.6" fill="none" stroke="#383838" stroke-width="0.95"/>
<path d="M292.7,452.3 L292.7,449.2 L307.14,449.2 L307.14,450" fill="none" stroke="#383838" stroke-width="0.95"/>
<path d="M285,452.3 L285,448.4 L299.92,448.4 L299.92,449.2" fill="none" stroke="#383838" stroke-width="0.95"/>
<path d="M277.3,452.3 L277.3,447.6 L292.46,447.6 L292.46,448.4" fill="none" stroke="#383838" stroke-width="0.95"/>
<path d="M269.6,452.3 L269.6,446.8 L284.88,446.8 L284.88,447.6" fill="none" stroke="#383838" stroke-width="0.95"/>
<path d="M261.9,452.3 L261.9,439.2 L277.24,439.2 L277.24,446.8" fill="none" stroke="#383838" stroke-width="0.95"/>
<path d="M269.57,439.2 L269.57,427.1 L335.05,427.1 L335.05,435.8" fill="none" stroke="#383838" stroke-width="0.95"/>
<path d="M415.79,452.3 L415.79,450.6 L423.27,450.6 L423.27,452.3" fill="none" stroke="#383838" stroke-width="0.95"/>
<path d="M408.31,452.3 L408.31,447.1 L419.53,447.1 L419.53,450.6" fill="none" stroke="#383838" stroke-width="0.95"/>
<path d="M370.89,452.3 L370.89,451.9 L378.38,451.9 L378.38,452.3" fill="none" stroke="#383838" stroke-width="0.95"/>
<path d="M363.41,452.3 L363.41,451.8 L374.63,451.8 L374.63,451.9" fill="none" stroke="#383838" stroke-width="0.95"/>
<path d="M355.93,452.3 L355.93,451.6 L369.02,451.6 L369.02,451.8" fill="none" stroke="#383838" stroke-width="0.95"/>
<path d="M393.34,452.3 L393.34,451.6 L400.82,451.6 L400.82,452.3" fill="none" stroke="#383838" stroke-width="0.95"/>
<path d="M385.86,452.3 L385.86,451.1 L397.08,451.1 L397.08,451.6" fill="none" stroke="#383838" stroke-width="0.95"/>
<path d="M362.47,451.6 L362.47,450.2 L391.47,450.2 L391.47,451.1" fill="none" stroke="#383838" stroke-width="0.95"/>
<path d="M376.97,450.2 L376.97,442.5 L413.92,442.5 L413.92,447.1" fill="none" stroke="#383838" stroke-width="0.95"/>
<path d="M348.44,452.3 L348.44,440.2 L395.45,440.2 L395.45,442.5" fill="none" stroke="#383838" stroke-width="0.95"/>
<path d="M371.94,440.2 L371.94,427.4 L430.76,427.4 L430.76,452.3" fill="none" stroke="#383838" stroke-width="0.95"/>
<path d="M441.15,452.3 L441.15,426.9 L448.65,426.9 L448.65,452.3" fill="none" stroke="#383838" stroke-width="0.95"/>
<path d="M48.8,483.03 L42.9,483.03 L42.9,494.2 L48.8,494.2" fill="none" stroke="#383838" stroke-width="0.95"/>
<path d="M48.8,583.56 L45,583.56 L45,594.73 L48.8,594.73" fill="none" stroke="#383838" stroke-width="0.95"/>
<path d="M48.8,527.71 L48,527.71 L48,572.38 L48.8,572.38" fill="none" stroke="#383838" stroke-width="0.95"/>
<path d="M48.8,538.88 L48.3,538.88 L48.3,550.05 L48.8,550.05" fill="none" stroke="#383838" stroke-width="0.95"/>
<path d="M48.8,561.22 L48.3,561.22 L48.3,561.23 L48.8,561.23" fill="none" stroke="#383838" stroke-width="0.95"/>
<path d="M48.8,516.54 L45,516.54 L45,550.05 L48,550.05" fill="none" stroke="#383838" stroke-width="0.95"/>
<path d="M45,533.29 L43.4,533.29 L43.4,589.14 L45,589.14" fill="none" stroke="#383838" stroke-width="0.95"/>
<path d="M48.8,505.37 L40.3,505.37 L40.3,561.22 L43.4,561.22" fill="none" stroke="#383838" stroke-width="0.95"/>
<path d="M42.9,488.61 L36.1,488.61 L36.1,533.29 L40.3,533.29" fill="none" stroke="#383838" stroke-width="0.95"/>
<path d="M48.8,471.86 L26,471.86 L26,510.95 L36.1,510.95" fill="none" stroke="#383838" stroke-width="0.95"/>
<path d="M48.8,460.69 L14.9,460.69 L14.9,491.4 L26,491.4" fill="none" stroke="#383838" stroke-width="0.95"/>
<rect x="0.5" y="0.5" width="518.8" height="662.4" fill="none" stroke="#000" stroke-width="1.2"/>
<rect x="0" y="662.6" width="520" height="1.4" fill="#000"/>
</svg></body></html>
